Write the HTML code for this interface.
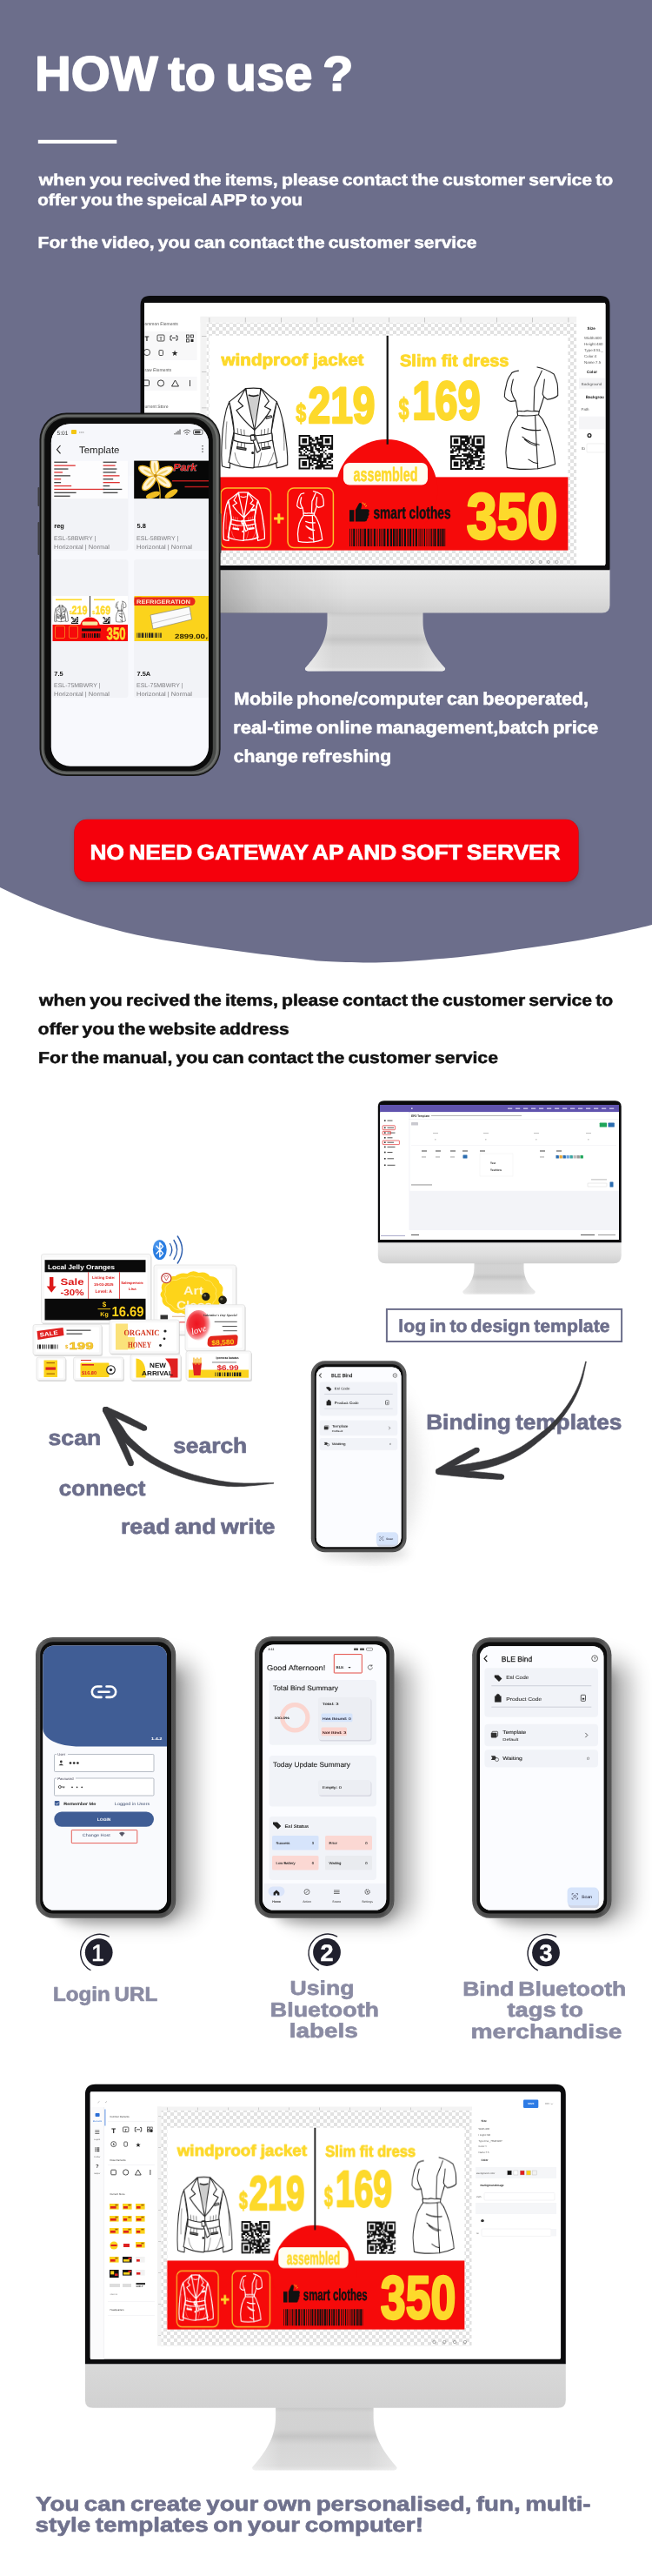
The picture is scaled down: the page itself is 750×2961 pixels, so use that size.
<!DOCTYPE html>
<html lang="en"><head><meta charset="utf-8"><title>HOW to use ?</title>
<style>
html,body{margin:0;padding:0;background:#fff;}
body{width:750px;height:2961px;overflow:hidden;font-family:"Liberation Sans",sans-serif;}
svg{display:block;font-family:"Liberation Sans",sans-serif;will-change:transform;}
text{white-space:pre;text-rendering:geometricPrecision;}
</style></head><body>
<svg width="750" height="2961" viewBox="0 0 750 2961">
<defs>
<pattern id="chk" width="8" height="8" patternUnits="userSpaceOnUse"><rect width="8" height="8" fill="#ffffff"/><rect width="4" height="4" fill="#e2e2e2"/><rect x="4" y="4" width="4" height="4" fill="#e2e2e2"/></pattern>
<linearGradient id="chin" x1="0" y1="0" x2="0" y2="1"><stop offset="0" stop-color="#e9e9e9"/><stop offset="0.6" stop-color="#dedede"/><stop offset="1" stop-color="#cfcfcf"/></linearGradient>
<linearGradient id="stand" x1="0" y1="0" x2="0" y2="1"><stop offset="0" stop-color="#c4c4c4"/><stop offset="0.1" stop-color="#d3d3d3"/><stop offset="0.36" stop-color="#d2d2d2"/><stop offset="0.47" stop-color="#c5c5c5"/><stop offset="0.6" stop-color="#d6d6d6"/><stop offset="0.93" stop-color="#dadada"/><stop offset="1" stop-color="#e6e6e6"/></linearGradient>
<linearGradient id="chin3" x1="0" y1="0" x2="0" y2="1"><stop offset="0" stop-color="#d9d9d9"/><stop offset="1" stop-color="#d1d1d1"/></linearGradient>
<linearGradient id="standh" x1="0" y1="0" x2="1" y2="0"><stop offset="0" stop-color="#fff" stop-opacity="0.45"/><stop offset="0.2" stop-color="#fff" stop-opacity="0"/><stop offset="0.8" stop-color="#fff" stop-opacity="0"/><stop offset="1" stop-color="#fff" stop-opacity="0.35"/></linearGradient>
<filter id="blur6" x="-30%" y="-30%" width="160%" height="160%"><feGaussianBlur stdDeviation="6"/></filter>
<filter id="blur10" x="-40%" y="-40%" width="180%" height="180%"><feGaussianBlur stdDeviation="10"/></filter>
<filter id="blur3" x="-30%" y="-30%" width="160%" height="160%"><feGaussianBlur stdDeviation="3"/></filter>
<filter id="blur1" x="-10%" y="-10%" width="120%" height="120%"><feGaussianBlur stdDeviation="0.6"/></filter>
<linearGradient id="pfr" x1="0" y1="0" x2="1" y2="0"><stop offset="0" stop-color="#474747"/><stop offset="0.04" stop-color="#5d5d5d"/><stop offset="0.08" stop-color="#4b4b4b"/><stop offset="0.92" stop-color="#4b4b4b"/><stop offset="0.96" stop-color="#5d5d5d"/><stop offset="1" stop-color="#474747"/></linearGradient>
<linearGradient id="phsh" x1="0" y1="0" x2="1" y2="0"><stop offset="0" stop-color="#000" stop-opacity="0.22"/><stop offset="0.35" stop-color="#000" stop-opacity="0.08"/><stop offset="1" stop-color="#000" stop-opacity="0"/></linearGradient>
<radialGradient id="loveg" cx="0.42" cy="0.45" r="0.6"><stop offset="0" stop-color="#ee1420"/><stop offset="0.5" stop-color="#f0323a"/><stop offset="0.8" stop-color="#f8a0a4"/><stop offset="1" stop-color="#fff" stop-opacity="0"/></radialGradient>
<filter id="blur14" x="-40%" y="-20%" width="180%" height="140%"><feGaussianBlur stdDeviation="13"/></filter>
</defs>
<path d="M-60,0 L-60,987 C-50.0,992.5 -19.6,1010.3 0,1020 C19.6,1029.7 38.3,1037.7 57.5,1045 C76.7,1052.3 95.9,1058.6 115,1064 C134.1,1069.4 152.8,1073.8 172,1077.6 C191.2,1081.4 210.8,1084.1 230,1087 C249.2,1089.9 267.8,1092.5 287,1095 C306.2,1097.5 330.3,1100.3 345,1102 C359.7,1103.7 360.5,1104.3 375,1105 C389.5,1105.7 412.8,1106.7 432,1106.4 C451.2,1106.2 470.8,1104.9 490,1103.5 C509.2,1102.1 527.8,1100.2 547,1098 C566.2,1095.8 585.8,1092.7 605,1090 C624.2,1087.3 642.8,1084.9 662,1081.6 C681.2,1078.3 705.3,1073.1 720,1070 C734.7,1066.9 745.0,1064.2 750,1063 L750,0 Z" fill="#6c6e8b"/>
<text x="39.94" y="103.8" font-size="56.3" fill="#fff" font-weight="700" textLength="366.45" lengthAdjust="spacingAndGlyphs" stroke="#fff" stroke-width="1.58" stroke-linejoin="round" word-spacing="-4.50">HOW to use ?</text>
<rect x="43.8" y="160.8" width="90.5" height="4.2" fill="#fff"/>
<text x="44.8" y="212.5" font-size="18.7" fill="#fff" font-weight="700" textLength="660.4" lengthAdjust="spacingAndGlyphs" stroke="#fff" stroke-width="0.52" stroke-linejoin="round" word-spacing="-1.50">when you recived the items, please contact the customer service to</text>
<text x="43.26" y="236" font-size="18.7" fill="#fff" font-weight="700" textLength="304.81" lengthAdjust="spacingAndGlyphs" stroke="#fff" stroke-width="0.52" stroke-linejoin="round" word-spacing="-1.50">offer you the speical APP to you</text>
<text x="43.63" y="284.8" font-size="18.7" fill="#fff" font-weight="700" textLength="504.81" lengthAdjust="spacingAndGlyphs" stroke="#fff" stroke-width="0.52" stroke-linejoin="round" word-spacing="-1.50">For the video, you can contact the customer service</text>
<path d="M376.5,702.6 L486.5,702.6 L486.5,714.6 C486.5,738.0 500.5,755.4 512.0,768.0 Q512.6,771.5 508.0,771.5 L355.0,771.5 Q350.4,771.5 351.0,768.0 C362.5,755.4 376.5,738.0 376.5,714.6 Z" fill="url(#stand)"/>
<path d="M376.5,702.6 L486.5,702.6 L486.5,714.6 C486.5,738.0 500.5,755.4 512.0,768.0 Q512.6,771.5 508.0,771.5 L355.0,771.5 Q350.4,771.5 351.0,768.0 C362.5,755.4 376.5,738.0 376.5,714.6 Z" fill="url(#standh)"/>
<path d="M161.5,654.3 L701.5,654.3 L701.5,695.6 Q701.5,704.6 692.5,704.6 L170.5,704.6 Q161.5,704.6 161.5,695.6 Z" fill="url(#chin)"/>
<path d="M161.5,655.3 L161.5,351 Q161.5,340 172.5,340 L690.5,340 Q701.5,340 701.5,351 L701.5,655.3 Z" fill="#0b0b0d"/>
<rect x="166.3" y="348.4" width="530.4" height="300.9" fill="#fff" rx="1.5"/>
<clipPath id="m1c"><rect x="166.2" y="348.4" width="529.6" height="301"/></clipPath>
<g clip-path="url(#m1c)">
<rect x="166" y="348" width="532" height="302" fill="#fff"/>
<rect x="237.5" y="370.7" width="425.8" height="278.6" fill="url(#chk)"/>
<rect x="230.5" y="363.8" width="433" height="6.9" fill="#f3f3f3"/>
<rect x="230.5" y="363.8" width="7" height="286" fill="#f3f3f3"/>
<rect x="240.6" y="365" width="0.6" height="5.5" fill="#aaa"/>
<rect x="281.9" y="365" width="0.6" height="5.5" fill="#aaa"/>
<rect x="323.2" y="365" width="0.6" height="5.5" fill="#aaa"/>
<rect x="364.5" y="365" width="0.6" height="5.5" fill="#aaa"/>
<rect x="405.79999999999995" y="365" width="0.6" height="5.5" fill="#aaa"/>
<rect x="447.1" y="365" width="0.6" height="5.5" fill="#aaa"/>
<rect x="488.4" y="365" width="0.6" height="5.5" fill="#aaa"/>
<rect x="529.6999999999999" y="365" width="0.6" height="5.5" fill="#aaa"/>
<rect x="571.0" y="365" width="0.6" height="5.5" fill="#aaa"/>
<rect x="612.3" y="365" width="0.6" height="5.5" fill="#aaa"/>
<rect x="653.6" y="365" width="0.6" height="5.5" fill="#aaa"/>
<rect x="232" y="386.0" width="5.5" height="0.6" fill="#aaa"/>
<rect x="232" y="427.3" width="5.5" height="0.6" fill="#aaa"/>
<rect x="232" y="468.6" width="5.5" height="0.6" fill="#aaa"/>
<rect x="232" y="509.9" width="5.5" height="0.6" fill="#aaa"/>
<rect x="232" y="551.2" width="5.5" height="0.6" fill="#aaa"/>
<rect x="232" y="592.5" width="5.5" height="0.6" fill="#aaa"/>
<rect x="232" y="633.8" width="5.5" height="0.6" fill="#aaa"/>
<rect x="232" y="675.0999999999999" width="5.5" height="0.6" fill="#aaa"/>
<rect x="240.6" y="385.8" width="412.79999999999995" height="246.8" fill="#fff"/>
<rect x="240.6" y="548.4" width="412.79999999999995" height="84.20000000000005" fill="#f60a0a"/>
<circle cx="444.8" cy="563.5" r="58.5" fill="#f60a0a"/>
<rect x="444.6" y="385.8" width="2.2" height="125" fill="#111"/>
<text x="254.5" y="420.3" font-size="19" fill="#fdd92b" font-weight="700" textLength="164" lengthAdjust="spacingAndGlyphs" stroke="#fdd92b" stroke-width="0.9" stroke-linejoin="round">windproof jacket</text>
<text x="460" y="420.7" font-size="19" fill="#fdd92b" font-weight="700" textLength="125.5" lengthAdjust="spacingAndGlyphs" stroke="#fdd92b" stroke-width="0.9" stroke-linejoin="round">Slim fit dress</text>
<text x="354.5" y="486.3" font-size="58.5" fill="#fdd92b" font-weight="700" textLength="77" lengthAdjust="spacingAndGlyphs" stroke="#fdd92b" stroke-width="2.6" stroke-linejoin="round">219</text>
<text x="340.3" y="485" font-size="30" fill="#fdd92b" font-weight="700" textLength="12" lengthAdjust="spacingAndGlyphs" stroke="#fdd92b" stroke-width="1.2" stroke-linejoin="round">$</text>
<text x="474.2" y="482.4" font-size="62.5" fill="#fdd92b" font-weight="700" textLength="78.5" lengthAdjust="spacingAndGlyphs" stroke="#fdd92b" stroke-width="2.6" stroke-linejoin="round">169</text>
<text x="458.5" y="481.8" font-size="35" fill="#fdd92b" font-weight="700" textLength="12" lengthAdjust="spacingAndGlyphs" stroke="#fdd92b" stroke-width="1.2" stroke-linejoin="round">$</text>
<g transform="translate(254.8,446) scale(0.7660,0.7767)" fill="#fff" stroke="#222" stroke-width="1.50" stroke-linejoin="round" stroke-linecap="round">
<path d="M11.7,20.4 C8,28 5.5,38 4.5,44.4 C2.5,55 1.2,66 0.9,74.7 C0.3,84 0,92 0,99.6 C0.2,106 0.5,111 0.9,115.6 C5,117.5 9,118.2 12.6,118.2 C12.8,110 13,100 13.5,92.4 C15,82 17,72 18.9,64 Z"/>
<path d="M82.9,20.4 C86.5,28 89.5,38 91,44.4 C93.5,55 95.5,66 96.4,74.7 C97.8,84 98.7,93 99.1,101.3 L99.1,113.8 C94,116 88,117.6 82.9,118.2 C82,110 80,100 78.4,92.4 C77.5,82 76,72 74.8,64 Z"/>
<path d="M36,0.9 L11.7,20.4 C15,34 18,50 18.9,64 C17.5,80 14,96 10.8,110 C22,115 36,118 47.7,118.2 L49.5,117.3 C62,117 74,114.5 83.8,110.2 C80,96 76.5,80 74.8,64 C76,50 79,34 82.9,20.4 L59.5,0.9 C52,0 44,0 36,0.9 Z"/>
<path d="M38.5,9 C44,11.5 52,11.5 57.5,9 L54,34 L47.7,52 L42,34 Z" fill="#cfcfcf" stroke="none"/>
<path d="M41.4,10.7 C45,12.2 51,12.2 55,10.7" fill="none" stroke-width="2.2"/>
<path d="M36.9,2 L37.6,9 M58.6,2 L57.9,9" fill="none"/>
<path d="M36,0.9 L25.2,19.6 L32.4,26.7 L22.5,32.9 C30,44 40,54 49.5,62.2 C46,46 41,26 37.4,8 Z"/>
<path d="M59.5,0.9 L71.2,19.6 L64.9,27.6 L73.9,32 C67,44 58,54 49.5,62.2 C52,46 55.5,26 58.2,8 Z"/>
<path d="M49.5,62.2 C50,80 50,100 48.6,117.8" fill="none"/>
<path d="M66.7,42.7 L74.8,40.9 L75.3,43.4 L67.2,45.3 Z"/>
<path d="M18.9,66.7 C30,70.5 40,71.5 47,71 C56,70.5 66,69.5 75.7,66.7 L76.3,77.2 C66,80.5 56,81.5 47,81.8 C38,82 28,81 18.3,77.4 Z"/>
<path d="M44.5,69.5 L50,69 L58.5,92 L53.5,95.5 Z"/>
<path d="M43.5,70.2 L49,69.6 L50.5,77 L44.6,77.8 Z"/>
<path d="M24,60 L24.8,67.5 M29,61 L29.6,68.8 M34,62 L34.4,69.8 M70,60 L69.4,67.5 M65,61 L64.6,69 M60,62 L59.8,70 M25,79.5 L23.5,88 M30,80.8 L29.2,88 M35,81.5 L34.6,88 M69.5,79.2 L71,87 M64.5,80.4 L65.2,87 M59.5,81.2 L60,87" fill="none" stroke-width="0.8"/>
<path d="M23.4,87.1 L36.9,89.3 L36.6,91.8 L23.2,89.6 Z" fill="#888"/>
<path d="M60.4,88.6 L73,86.6 L73.3,89 L60.7,91 Z" fill="#888"/>
<circle cx="46.8" cy="96" r="1.2" fill="#333"/>
<path d="M8,50 C7,62 6,76 6.5,90 M92,50 C93.5,62 94.5,76 94,92 M20,96 C21,104 24,110 28,114 M78,96 C76,104 73,109 70,113 M60,96 C59,104 57,110 55,116" fill="none" stroke-width="0.7"/>
</g>
<g transform="translate(580.3,421.5) scale(0.8771,0.9085)" fill="#fff" stroke="#222" stroke-width="1.25" stroke-linejoin="round" stroke-linecap="round">
<path stroke="none" d="M18.4,5.1 C12,6 9,8 8.8,9.3 C5,14 3,20 2.6,22.8 C1,28 0,34 0,38 C3,42 6,44 8.8,43.9 L14.9,43 L17.5,56.6 L17.5,61.7 C12,68 8,76 6.1,82 C3.5,92 2,102 1.8,109 L3.5,127.5 C18,131 32,130 43.8,129 C52,128 60,126 66.5,123.3 C65,110 62,98 59.5,88.7 C57,80 53,72 50,66.7 L44.7,60.8 L45.5,56.6 L51.7,38 L56,41.4 C62,41 67,39 70,36.3 C70,30 70,25 69.2,21.1 C68,16 66,12 64.8,9.3 C58,5 50,2 42.9,0.5 L39.4,26.2 Z"/>
<path fill="none" d="M18.4,5.1 C12,6 9,8 8.8,9.3 C5,14 3,20 2.6,22.8 C1,28 0,34 0,38 C3,42 6,44 8.8,43.9 L14.9,43 M11.4,16 C10,21 9,25 8.8,29.6 C10,35 12,40 14.9,43 C15.5,48 16.5,52 17.5,56.6"/>
<path fill="none" d="M42.9,0.5 C50,2 58,5 64.8,9.3 C66,12 68,16 69.2,21.1 C70,25 70,30 70,36.3 C67,39 62,41 56,41.4 L51.7,38 M52.5,16 C52,22 51,28 50,34.6 L51.7,38 C50,44 47.5,51 45.5,56.6"/>
<path fill="none" d="M49,5.1 C46,12 42,20 39.4,26.2 C39,36 38.6,46 38.5,55"/>
<path fill="none" d="M16.6,56.6 C20,55 24,57.5 28,56 C32,55 36,57.5 40,56 L45.5,56.6 L44.7,60.8 C36,62.5 26,62.5 17.5,61.7 Z"/>
<path fill="none" d="M17.5,61.7 C12,68 8,76 6.1,82 C3.5,92 2,102 1.8,109 L3.5,127.5 C18,131 32,130 43.8,129 C52,128 60,126 66.5,123.3 C65,110 62,98 59.5,88.7 C57,80 53,72 50,66.7 L44.7,60.8"/>
<path fill="none" d="M40.3,61.7 C41,84 42.5,106 43.8,129 M22.8,76.9 C30,80 40,81 47.3,80.2 M23.6,88.7 C30,94 38,97.5 45.5,98.8 M26.3,92 C31,96 37,99 42,100 M31.5,117.4 C35,120 40,122 43.8,122.5"/>
</g>
<path d="M368.05,500.00h1.88v1.88h-1.88z M356.77,501.88h1.88v1.88h-1.88z M362.41,501.88h1.88v1.88h-1.88z M364.29,501.88h1.88v1.88h-1.88z M368.05,501.88h1.88v1.88h-1.88z M356.77,503.76h3.76v1.88h-3.76z M362.41,503.76h1.88v1.88h-1.88z M364.29,503.76h1.88v1.88h-1.88z M366.17,503.76h3.76v1.88h-3.76z M358.65,505.64h3.76v1.88h-3.76z M364.29,505.64h1.88v1.88h-1.88z M356.77,507.52h1.88v1.88h-1.88z M364.29,507.52h5.64v1.88h-5.64z M356.77,509.40h5.64v1.88h-5.64z M362.41,509.40h1.88v1.88h-1.88z M364.29,509.40h3.76v1.88h-3.76z M368.05,509.40h1.88v1.88h-1.88z M356.77,511.29h1.88v1.88h-1.88z M360.53,511.29h1.88v1.88h-1.88z M362.41,511.29h1.88v1.88h-1.88z M366.17,511.29h1.88v1.88h-1.88z M368.05,511.29h1.88v1.88h-1.88z M345.48,513.17h5.64v1.88h-5.64z M351.12,513.17h1.88v1.88h-1.88z M356.77,513.17h3.76v1.88h-3.76z M362.41,513.17h1.88v1.88h-1.88z M368.05,513.17h1.88v1.88h-1.88z M369.93,513.17h3.76v1.88h-3.76z M375.58,513.17h1.88v1.88h-1.88z M379.34,513.17h3.76v1.88h-3.76z M343.60,515.05h5.64v1.88h-5.64z M351.12,515.05h3.76v1.88h-3.76z M356.77,515.05h3.76v1.88h-3.76z M362.41,515.05h1.88v1.88h-1.88z M364.29,515.05h1.88v1.88h-1.88z M366.17,515.05h1.88v1.88h-1.88z M369.93,515.05h1.88v1.88h-1.88z M377.46,515.05h1.88v1.88h-1.88z M379.34,515.05h1.88v1.88h-1.88z M381.22,515.05h1.88v1.88h-1.88z M343.60,516.93h1.88v1.88h-1.88z M349.24,516.93h1.88v1.88h-1.88z M353.00,516.93h3.76v1.88h-3.76z M356.77,516.93h3.76v1.88h-3.76z M364.29,516.93h7.52v1.88h-7.52z M373.70,516.93h1.88v1.88h-1.88z M343.60,518.81h1.88v1.88h-1.88z M345.48,518.81h1.88v1.88h-1.88z M351.12,518.81h1.88v1.88h-1.88z M356.77,518.81h1.88v1.88h-1.88z M358.65,518.81h1.88v1.88h-1.88z M360.53,518.81h1.88v1.88h-1.88z M366.17,518.81h1.88v1.88h-1.88z M371.81,518.81h1.88v1.88h-1.88z M345.48,520.69h1.88v1.88h-1.88z M349.24,520.69h1.88v1.88h-1.88z M354.89,520.69h1.88v1.88h-1.88z M360.53,520.69h1.88v1.88h-1.88z M368.05,520.69h3.76v1.88h-3.76z M373.70,520.69h1.88v1.88h-1.88z M377.46,520.69h1.88v1.88h-1.88z M379.34,520.69h3.76v1.88h-3.76z M343.60,522.57h9.40v1.88h-9.40z M353.00,522.57h1.88v1.88h-1.88z M356.77,522.57h1.88v1.88h-1.88z M358.65,522.57h1.88v1.88h-1.88z M360.53,522.57h1.88v1.88h-1.88z M362.41,522.57h1.88v1.88h-1.88z M364.29,522.57h3.76v1.88h-3.76z M368.05,522.57h1.88v1.88h-1.88z M369.93,522.57h1.88v1.88h-1.88z M375.58,522.57h1.88v1.88h-1.88z M379.34,522.57h3.76v1.88h-3.76z M353.00,524.45h1.88v1.88h-1.88z M354.89,524.45h3.76v1.88h-3.76z M360.53,524.45h1.88v1.88h-1.88z M364.29,524.45h1.88v1.88h-1.88z M366.17,524.45h3.76v1.88h-3.76z M369.93,524.45h1.88v1.88h-1.88z M375.58,524.45h1.88v1.88h-1.88z M377.46,524.45h1.88v1.88h-1.88z M379.34,524.45h1.88v1.88h-1.88z M381.22,524.45h1.88v1.88h-1.88z M356.77,526.33h1.88v1.88h-1.88z M358.65,526.33h1.88v1.88h-1.88z M360.53,526.33h3.76v1.88h-3.76z M366.17,526.33h1.88v1.88h-1.88z M368.05,526.33h1.88v1.88h-1.88z M371.81,526.33h5.64v1.88h-5.64z M377.46,526.33h1.88v1.88h-1.88z M379.34,526.33h1.88v1.88h-1.88z M358.65,528.21h1.88v1.88h-1.88z M360.53,528.21h1.88v1.88h-1.88z M362.41,528.21h3.76v1.88h-3.76z M366.17,528.21h3.76v1.88h-3.76z M371.81,528.21h3.76v1.88h-3.76z M381.22,528.21h1.88v1.88h-1.88z M358.65,530.10h1.88v1.88h-1.88z M364.29,530.10h1.88v1.88h-1.88z M366.17,530.10h3.76v1.88h-3.76z M369.93,530.10h3.76v1.88h-3.76z M373.70,530.10h1.88v1.88h-1.88z M377.46,530.10h3.76v1.88h-3.76z M356.77,531.98h1.88v1.88h-1.88z M360.53,531.98h5.64v1.88h-5.64z M368.05,531.98h3.76v1.88h-3.76z M375.58,531.98h1.88v1.88h-1.88z M356.77,533.86h1.88v1.88h-1.88z M358.65,533.86h1.88v1.88h-1.88z M364.29,533.86h3.76v1.88h-3.76z M368.05,533.86h1.88v1.88h-1.88z M369.93,533.86h3.76v1.88h-3.76z M373.70,533.86h9.40v1.88h-9.40z M362.41,535.74h1.88v1.88h-1.88z M364.29,535.74h1.88v1.88h-1.88z M366.17,535.74h1.88v1.88h-1.88z M368.05,535.74h3.76v1.88h-3.76z M371.81,535.74h1.88v1.88h-1.88z M381.22,535.74h1.88v1.88h-1.88z M358.65,537.62h1.88v1.88h-1.88z M362.41,537.62h5.64v1.88h-5.64z M368.05,537.62h1.88v1.88h-1.88z M371.81,537.62h1.88v1.88h-1.88z M373.70,537.62h3.76v1.88h-3.76z M377.46,537.62h1.88v1.88h-1.88z M379.34,537.62h3.76v1.88h-3.76z M343.60,500.00h13.17v13.17h-13.17z M345.48,501.88v9.40h9.40v-9.40z M347.36,503.76h5.64v5.64h-5.64z M369.93,500.00h13.17v13.17h-13.17z M371.81,501.88v9.40h9.40v-9.40z M373.70,503.76h5.64v5.64h-5.64z M343.60,526.33h13.17v13.17h-13.17z M345.48,528.21v9.40h9.40v-9.40z M347.36,530.10h5.64v5.64h-5.64z" fill="#111" fill-rule="evenodd"/>
<path d="M531.17,500.50h5.64v1.88h-5.64z M536.81,500.50h1.88v1.88h-1.88z M540.57,500.50h1.88v1.88h-1.88z M531.17,502.38h3.76v1.88h-3.76z M534.93,502.38h1.88v1.88h-1.88z M536.81,502.38h5.64v1.88h-5.64z M534.93,504.26h1.88v1.88h-1.88z M536.81,504.26h3.76v1.88h-3.76z M542.45,504.26h1.88v1.88h-1.88z M531.17,506.14h7.52v1.88h-7.52z M538.69,506.14h1.88v1.88h-1.88z M542.45,506.14h1.88v1.88h-1.88z M531.17,508.02h1.88v1.88h-1.88z M533.05,508.02h1.88v1.88h-1.88z M536.81,508.02h1.88v1.88h-1.88z M538.69,508.02h1.88v1.88h-1.88z M542.45,508.02h1.88v1.88h-1.88z M531.17,509.90h3.76v1.88h-3.76z M534.93,509.90h3.76v1.88h-3.76z M540.57,509.90h3.76v1.88h-3.76z M533.05,511.79h1.88v1.88h-1.88z M534.93,511.79h1.88v1.88h-1.88z M538.69,511.79h1.88v1.88h-1.88z M542.45,511.79h1.88v1.88h-1.88z M518.00,513.67h1.88v1.88h-1.88z M521.76,513.67h1.88v1.88h-1.88z M525.52,513.67h1.88v1.88h-1.88z M527.40,513.67h3.76v1.88h-3.76z M534.93,513.67h3.76v1.88h-3.76z M540.57,513.67h1.88v1.88h-1.88z M546.21,513.67h1.88v1.88h-1.88z M548.10,513.67h1.88v1.88h-1.88z M549.98,513.67h1.88v1.88h-1.88z M551.86,513.67h3.76v1.88h-3.76z M555.62,513.67h1.88v1.88h-1.88z M519.88,515.55h1.88v1.88h-1.88z M523.64,515.55h1.88v1.88h-1.88z M525.52,515.55h1.88v1.88h-1.88z M527.40,515.55h3.76v1.88h-3.76z M531.17,515.55h3.76v1.88h-3.76z M534.93,515.55h1.88v1.88h-1.88z M536.81,515.55h1.88v1.88h-1.88z M538.69,515.55h3.76v1.88h-3.76z M542.45,515.55h1.88v1.88h-1.88z M548.10,515.55h7.52v1.88h-7.52z M518.00,517.43h3.76v1.88h-3.76z M521.76,517.43h3.76v1.88h-3.76z M527.40,517.43h1.88v1.88h-1.88z M533.05,517.43h1.88v1.88h-1.88z M534.93,517.43h1.88v1.88h-1.88z M540.57,517.43h5.64v1.88h-5.64z M546.21,517.43h1.88v1.88h-1.88z M548.10,517.43h1.88v1.88h-1.88z M549.98,517.43h5.64v1.88h-5.64z M518.00,519.31h3.76v1.88h-3.76z M527.40,519.31h1.88v1.88h-1.88z M538.69,519.31h1.88v1.88h-1.88z M542.45,519.31h1.88v1.88h-1.88z M546.21,519.31h1.88v1.88h-1.88z M548.10,519.31h1.88v1.88h-1.88z M551.86,519.31h1.88v1.88h-1.88z M553.74,519.31h1.88v1.88h-1.88z M555.62,519.31h1.88v1.88h-1.88z M525.52,521.19h1.88v1.88h-1.88z M531.17,521.19h5.64v1.88h-5.64z M536.81,521.19h5.64v1.88h-5.64z M544.33,521.19h1.88v1.88h-1.88z M546.21,521.19h1.88v1.88h-1.88z M548.10,521.19h1.88v1.88h-1.88z M518.00,523.07h5.64v1.88h-5.64z M523.64,523.07h7.52v1.88h-7.52z M533.05,523.07h1.88v1.88h-1.88z M534.93,523.07h1.88v1.88h-1.88z M536.81,523.07h1.88v1.88h-1.88z M538.69,523.07h3.76v1.88h-3.76z M542.45,523.07h1.88v1.88h-1.88z M546.21,523.07h3.76v1.88h-3.76z M549.98,523.07h3.76v1.88h-3.76z M555.62,523.07h1.88v1.88h-1.88z M518.00,524.95h5.64v1.88h-5.64z M536.81,524.95h5.64v1.88h-5.64z M542.45,524.95h3.76v1.88h-3.76z M546.21,524.95h5.64v1.88h-5.64z M555.62,524.95h1.88v1.88h-1.88z M531.17,526.83h1.88v1.88h-1.88z M533.05,526.83h3.76v1.88h-3.76z M536.81,526.83h1.88v1.88h-1.88z M540.57,526.83h1.88v1.88h-1.88z M542.45,526.83h1.88v1.88h-1.88z M551.86,526.83h1.88v1.88h-1.88z M553.74,526.83h3.76v1.88h-3.76z M533.05,528.71h1.88v1.88h-1.88z M534.93,528.71h1.88v1.88h-1.88z M538.69,528.71h1.88v1.88h-1.88z M540.57,528.71h1.88v1.88h-1.88z M542.45,528.71h3.76v1.88h-3.76z M546.21,528.71h7.52v1.88h-7.52z M531.17,530.60h1.88v1.88h-1.88z M534.93,530.60h1.88v1.88h-1.88z M536.81,530.60h9.40v1.88h-9.40z M549.98,530.60h1.88v1.88h-1.88z M551.86,530.60h1.88v1.88h-1.88z M534.93,532.48h3.76v1.88h-3.76z M540.57,532.48h3.76v1.88h-3.76z M544.33,532.48h1.88v1.88h-1.88z M549.98,532.48h3.76v1.88h-3.76z M555.62,532.48h1.88v1.88h-1.88z M531.17,534.36h3.76v1.88h-3.76z M536.81,534.36h3.76v1.88h-3.76z M540.57,534.36h1.88v1.88h-1.88z M548.10,534.36h3.76v1.88h-3.76z M551.86,534.36h1.88v1.88h-1.88z M536.81,536.24h3.76v1.88h-3.76z M544.33,536.24h1.88v1.88h-1.88z M553.74,536.24h3.76v1.88h-3.76z M534.93,538.12h1.88v1.88h-1.88z M536.81,538.12h7.52v1.88h-7.52z M546.21,538.12h1.88v1.88h-1.88z M548.10,538.12h5.64v1.88h-5.64z M553.74,538.12h1.88v1.88h-1.88z M518.00,500.50h13.17v13.17h-13.17z M519.88,502.38v9.40h9.40v-9.40z M521.76,504.26h5.64v5.64h-5.64z M544.33,500.50h13.17v13.17h-13.17z M546.21,502.38v9.40h9.40v-9.40z M548.10,504.26h5.64v5.64h-5.64z M518.00,526.83h13.17v13.17h-13.17z M519.88,528.71v9.40h9.40v-9.40z M521.76,530.60h5.64v5.64h-5.64z" fill="#111" fill-rule="evenodd"/>
<rect x="395" y="532" width="97" height="25.5" fill="#fffdf2" rx="7"/>
<text x="443.5" y="552.5" font-size="22.5" fill="#fdd92b" font-weight="700" text-anchor="middle" textLength="74" lengthAdjust="spacingAndGlyphs" stroke="#fdd92b" stroke-width="0.5" stroke-linejoin="round">assembled</text>
<rect x="254" y="561" width="57.5" height="68.6" fill="none" rx="7" stroke="#fbc12a" stroke-width="1.5"/>
<rect x="331" y="561" width="52.4" height="68.6" fill="none" rx="7" stroke="#fbc12a" stroke-width="1.5"/>
<g transform="translate(257,565.8) scale(0.4780,0.4700)" fill="none" stroke="#fff" stroke-width="2.62" stroke-linejoin="round" stroke-linecap="round">
<path d="M11.7,20.4 C8,28 5.5,38 4.5,44.4 C2.5,55 1.2,66 0.9,74.7 C0.3,84 0,92 0,99.6 C0.2,106 0.5,111 0.9,115.6 C5,117.5 9,118.2 12.6,118.2 C12.8,110 13,100 13.5,92.4 C15,82 17,72 18.9,64 Z"/>
<path d="M82.9,20.4 C86.5,28 89.5,38 91,44.4 C93.5,55 95.5,66 96.4,74.7 C97.8,84 98.7,93 99.1,101.3 L99.1,113.8 C94,116 88,117.6 82.9,118.2 C82,110 80,100 78.4,92.4 C77.5,82 76,72 74.8,64 Z"/>
<path d="M36,0.9 L11.7,20.4 C15,34 18,50 18.9,64 C17.5,80 14,96 10.8,110 C22,115 36,118 47.7,118.2 L49.5,117.3 C62,117 74,114.5 83.8,110.2 C80,96 76.5,80 74.8,64 C76,50 79,34 82.9,20.4 L59.5,0.9 C52,0 44,0 36,0.9 Z"/>
<path d="M41.4,10.7 C45,12.2 51,12.2 55,10.7" fill="none" stroke-width="2.2"/>
<path d="M36.9,2 L37.6,9 M58.6,2 L57.9,9" fill="none"/>
<path d="M36,0.9 L25.2,19.6 L32.4,26.7 L22.5,32.9 C30,44 40,54 49.5,62.2 C46,46 41,26 37.4,8 Z"/>
<path d="M59.5,0.9 L71.2,19.6 L64.9,27.6 L73.9,32 C67,44 58,54 49.5,62.2 C52,46 55.5,26 58.2,8 Z"/>
<path d="M49.5,62.2 C50,80 50,100 48.6,117.8" fill="none"/>
<path d="M66.7,42.7 L74.8,40.9 L75.3,43.4 L67.2,45.3 Z"/>
<path d="M18.9,66.7 C30,70.5 40,71.5 47,71 C56,70.5 66,69.5 75.7,66.7 L76.3,77.2 C66,80.5 56,81.5 47,81.8 C38,82 28,81 18.3,77.4 Z"/>
<path d="M44.5,69.5 L50,69 L58.5,92 L53.5,95.5 Z"/>
<path d="M43.5,70.2 L49,69.6 L50.5,77 L44.6,77.8 Z"/>
<path d="M24,60 L24.8,67.5 M29,61 L29.6,68.8 M34,62 L34.4,69.8 M70,60 L69.4,67.5 M65,61 L64.6,69 M60,62 L59.8,70 M25,79.5 L23.5,88 M30,80.8 L29.2,88 M35,81.5 L34.6,88 M69.5,79.2 L71,87 M64.5,80.4 L65.2,87 M59.5,81.2 L60,87" fill="none" stroke-width="0.8"/>
<path d="M23.4,87.1 L36.9,89.3 L36.6,91.8 L23.2,89.6 Z" fill="#888"/>
<path d="M60.4,88.6 L73,86.6 L73.3,89 L60.7,91 Z" fill="#888"/>
<circle cx="46.8" cy="96" r="1.2" fill="#333"/>
<path d="M8,50 C7,62 6,76 6.5,90 M92,50 C93.5,62 94.5,76 94,92 M20,96 C21,104 24,110 28,114 M78,96 C76,104 73,109 70,113 M60,96 C59,104 57,110 55,116" fill="none" stroke-width="0.7"/>
</g>
<g transform="translate(341.7,564.5) scale(0.4371,0.4531)" fill="none" stroke="#fff" stroke-width="2.86" stroke-linejoin="round" stroke-linecap="round">
<path stroke="none" d="M18.4,5.1 C12,6 9,8 8.8,9.3 C5,14 3,20 2.6,22.8 C1,28 0,34 0,38 C3,42 6,44 8.8,43.9 L14.9,43 L17.5,56.6 L17.5,61.7 C12,68 8,76 6.1,82 C3.5,92 2,102 1.8,109 L3.5,127.5 C18,131 32,130 43.8,129 C52,128 60,126 66.5,123.3 C65,110 62,98 59.5,88.7 C57,80 53,72 50,66.7 L44.7,60.8 L45.5,56.6 L51.7,38 L56,41.4 C62,41 67,39 70,36.3 C70,30 70,25 69.2,21.1 C68,16 66,12 64.8,9.3 C58,5 50,2 42.9,0.5 L39.4,26.2 Z"/>
<path fill="none" d="M18.4,5.1 C12,6 9,8 8.8,9.3 C5,14 3,20 2.6,22.8 C1,28 0,34 0,38 C3,42 6,44 8.8,43.9 L14.9,43 M11.4,16 C10,21 9,25 8.8,29.6 C10,35 12,40 14.9,43 C15.5,48 16.5,52 17.5,56.6"/>
<path fill="none" d="M42.9,0.5 C50,2 58,5 64.8,9.3 C66,12 68,16 69.2,21.1 C70,25 70,30 70,36.3 C67,39 62,41 56,41.4 L51.7,38 M52.5,16 C52,22 51,28 50,34.6 L51.7,38 C50,44 47.5,51 45.5,56.6"/>
<path fill="none" d="M49,5.1 C46,12 42,20 39.4,26.2 C39,36 38.6,46 38.5,55"/>
<path fill="none" d="M16.6,56.6 C20,55 24,57.5 28,56 C32,55 36,57.5 40,56 L45.5,56.6 L44.7,60.8 C36,62.5 26,62.5 17.5,61.7 Z"/>
<path fill="none" d="M17.5,61.7 C12,68 8,76 6.1,82 C3.5,92 2,102 1.8,109 L3.5,127.5 C18,131 32,130 43.8,129 C52,128 60,126 66.5,123.3 C65,110 62,98 59.5,88.7 C57,80 53,72 50,66.7 L44.7,60.8"/>
<path fill="none" d="M40.3,61.7 C41,84 42.5,106 43.8,129 M22.8,76.9 C30,80 40,81 47.3,80.2 M23.6,88.7 C30,94 38,97.5 45.5,98.8 M26.3,92 C31,96 37,99 42,100 M31.5,117.4 C35,120 40,122 43.8,122.5"/>
</g>
<rect x="315.1" y="594.5" width="11.4" height="3" fill="#fdd92b"/>
<rect x="319.3" y="590.3" width="3" height="11.4" fill="#fdd92b"/>
<g transform="translate(402,577) scale(0.9792,1.0227)" fill="#111">
<rect x="0" y="9" width="5.5" height="13"/>
<path d="M7,9 L11,2 C12,0 15,1 14.5,4 L13.5,8 L21,8 C23.5,8 24,10.5 22.5,12 C23.5,13.5 23,15 21.8,15.8 C22.5,17.3 21.8,18.6 20.6,19.2 C20.8,21 19.5,22 18,22 L7,22 Z"/>
<path d="M15.5,0.5l1.2,2.2M18.5,1.5l-0.6,2.2M20.5,4l-2,1.2" stroke="#f6d21e" stroke-width="0.9" fill="none"/>
</g>
<text x="429.5" y="596.3" font-size="19.5" fill="#111" font-weight="700" textLength="89" lengthAdjust="spacingAndGlyphs" stroke="#111" stroke-width="0.5" stroke-linejoin="round">smart clothes</text>
<path d="M402.00,607.7h0.8v20.3h-0.8z M404.40,607.7h0.8v20.3h-0.8z M406.20,607.7h2.2v20.3h-2.2z M410.00,607.7h0.8v20.3h-0.8z M412.40,607.7h0.8v20.3h-0.8z M414.20,607.7h1.4v20.3h-1.4z M417.20,607.7h0.8v20.3h-0.8z M418.80,607.7h2.2v20.3h-2.2z M422.60,607.7h2.2v20.3h-2.2z M425.80,607.7h0.8v20.3h-0.8z M427.40,607.7h0.8v20.3h-0.8z M429.80,607.7h2.2v20.3h-2.2z M433.60,607.7h0.8v20.3h-0.8z M436.00,607.7h0.8v20.3h-0.8z M437.60,607.7h0.8v20.3h-0.8z M439.40,607.7h0.8v20.3h-0.8z M441.20,607.7h2.2v20.3h-2.2z M445.00,607.7h2.2v20.3h-2.2z M448.80,607.7h2.2v20.3h-2.2z M452.00,607.7h2.2v20.3h-2.2z M455.00,607.7h1.4v20.3h-1.4z M457.20,607.7h0.8v20.3h-0.8z M458.80,607.7h2.2v20.3h-2.2z M461.80,607.7h1.4v20.3h-1.4z M464.80,607.7h2.2v20.3h-2.2z M468.60,607.7h1.4v20.3h-1.4z M471.00,607.7h2.2v20.3h-2.2z M474.80,607.7h1.4v20.3h-1.4z M477.80,607.7h2.2v20.3h-2.2z M481.60,607.7h0.8v20.3h-0.8z M483.40,607.7h0.8v20.3h-0.8z M485.20,607.7h0.8v20.3h-0.8z M487.60,607.7h1.4v20.3h-1.4z M490.60,607.7h0.8v20.3h-0.8z M493.00,607.7h0.8v20.3h-0.8z M495.40,607.7h1.4v20.3h-1.4z M497.80,607.7h0.8v20.3h-0.8z M499.40,607.7h2.2v20.3h-2.2z M503.20,607.7h2.2v20.3h-2.2z M506.20,607.7h1.4v20.3h-1.4z M508.40,607.7h2.2v20.3h-2.2z M511.40,607.7h0.8v20.3h-0.8z" fill="#111"/>
<text x="536.8" y="619.3" font-size="74.5" fill="#fdd92b" font-weight="700" textLength="104.5" lengthAdjust="spacingAndGlyphs" stroke="#fdd92b" stroke-width="3" stroke-linejoin="round">350</text>
<rect x="166" y="381" width="60.7" height="33" fill="#f8f8f9"/>
<rect x="166" y="433" width="60.7" height="16" fill="#f8f8f9"/>
<text x="166.5" y="374.3" font-size="5" fill="#555" textLength="38.5" lengthAdjust="spacingAndGlyphs">ommon Elements</text>
<text x="166.5" y="427.4" font-size="5" fill="#555" textLength="30.7" lengthAdjust="spacingAndGlyphs">raw Elements</text>
<text x="166.5" y="469.2" font-size="5" fill="#555" textLength="27" lengthAdjust="spacingAndGlyphs">urrent Store</text>
<text x="169" y="391.5" font-size="8" fill="#222" font-weight="700" text-anchor="middle">T</text>
<rect x="181" y="385" width="8" height="7" fill="none" rx="1" stroke="#222" stroke-width="0.8"/>
<text x="185" y="390.6" font-size="5" fill="#222" font-weight="700" text-anchor="middle">T</text>
<path d="M198,386h-2v5h2 M202,386h2v5h-2 M198,388.5h4" fill="none" stroke="#222" stroke-width="0.9"/>
<rect x="214.5" y="385" width="3" height="3" fill="none" stroke="#222" stroke-width="0.8"/>
<rect x="219.5" y="385" width="3" height="3" fill="none" stroke="#222" stroke-width="0.8"/>
<rect x="214.5" y="390" width="3" height="3" fill="none" stroke="#222" stroke-width="0.8"/>
<rect x="219.5" y="390" width="3" height="3" fill="#222"/>
<circle cx="169" cy="405" r="3.6" fill="none" stroke="#222" stroke-width="0.8"/>
<rect x="183" y="402.5" width="4.5" height="6" fill="none" rx="1" stroke="#222" stroke-width="0.8"/>
<text x="201" y="409" font-size="9" fill="#222" text-anchor="middle">★</text>
<rect x="165" y="437" width="6.5" height="6.5" fill="none" rx="1" stroke="#222" stroke-width="0.9"/>
<circle cx="185" cy="440.5" r="3.6" fill="none" stroke="#222" stroke-width="0.9"/>
<path d="M197.5,444 l4,-7 l4,7z" fill="none" stroke="#222" stroke-width="0.9"/>
<rect x="218" y="437" width="0.9" height="7" fill="#222"/>
<rect x="663.4" y="348" width="34" height="302" fill="#fff"/>
<text x="675.6" y="379" font-size="4.6" fill="#222" font-weight="700">Size</text>
<text x="672.1" y="389.8" font-size="4.4" fill="#555">Width:800</text>
<text x="672.1" y="396.90000000000003" font-size="4.4" fill="#555">Height:480</text>
<text x="672.1" y="404.0" font-size="4.4" fill="#555">Type:ESL_</text>
<text x="672.1" y="411.1" font-size="4.4" fill="#555">Color:4</text>
<text x="672.1" y="418.2" font-size="4.4" fill="#555">Name:7.5</text>
<text x="675" y="428.5" font-size="4.6" fill="#222" font-weight="700">Color</text>
<rect x="666" y="434.5" width="30" height="12.2" fill="#f4f4f6"/>
<text x="668.8" y="442.8" font-size="4.4" fill="#555">Background</text>
<text x="673.7" y="458.2" font-size="4.6" fill="#222" font-weight="700">Backgrou</text>
<text x="668.5" y="471.9" font-size="4.4" fill="#555">Path</text>
<rect x="666" y="478.7" width="30" height="14.7" fill="#f5f5f7"/>
<circle cx="678" cy="500.5" r="1.9" fill="none" stroke="#222" stroke-width="1.3"/>
<text x="668.8" y="517" font-size="4.4" fill="#555">ID</text>
<rect x="675" y="510" width="21" height="10" fill="none" rx="1" stroke="#e6e6e6" stroke-width="0.6"/>
<circle cx="612.0" cy="646" r="1.6" fill="none" stroke="#888" stroke-width="0.6"/>
<circle cx="621.5" cy="646" r="1.6" fill="none" stroke="#888" stroke-width="0.6"/>
<circle cx="631.0" cy="646" r="1.6" fill="none" stroke="#888" stroke-width="0.6"/>
<circle cx="640.5" cy="646" r="1.6" fill="none" stroke="#888" stroke-width="0.6"/>
</g>
<rect x="250" y="655" width="150" height="50" fill="url(#phsh)"/>
<rect x="45.5" y="474.5" width="208.1" height="417.5" fill="#151515" rx="31"/>
<rect x="47.3" y="476.3" width="204.9" height="413.9" fill="#555755" rx="29.2"/>
<rect x="48.3" y="477.3" width="202.7" height="411.9" fill="#6e706e" rx="28.2"/>
<rect x="49.7" y="478.7" width="198.9" height="409.1" fill="#484a48" rx="26.8"/>
<rect x="51.3" y="480.3" width="193.5" height="405.9" fill="#0c0c0c" rx="25.2"/>
<rect x="58.8" y="487.2" width="181.2" height="393.50000000000006" fill="#f8f9fd" rx="22"/>
<rect x="43.5" y="560" width="2" height="22" fill="#3d3d3f" rx="1"/>
<rect x="43.5" y="600" width="2" height="38" fill="#3d3d3f" rx="1"/>
<rect x="252.5" y="590" width="2" height="46" fill="#3d3d3f" rx="1"/>
<clipPath id="p1c"><rect x="58.8" y="487.2" width="181.2" height="393.5" rx="22"/></clipPath>
<g clip-path="url(#p1c)">
<rect x="59" y="487" width="181" height="60" fill="#f6f7fb"/>
<text x="65.5" y="499.5" font-size="6.6" fill="#333">5:01</text>
<rect x="82" y="494" width="6" height="5" fill="#f3c614" rx="1"/>
<text x="91" y="498.5" font-size="6" fill="#555" font-weight="700">···</text>
<path d="M201,499.5v-1.5 M203,499.5v-3 M205,499.5v-4.5 M207,499.5v-6" fill="none" stroke="#444" stroke-width="1"/>
<path d="M211,496 q4,-4 8,0 M212.5,497.8 q2.5,-2.4 5,0" fill="none" stroke="#444" stroke-width="0.9"/>
<circle cx="215" cy="499.3" r="0.7" fill="#444"/>
<rect x="222.5" y="494" width="10.5" height="5.5" fill="none" rx="1.5" stroke="#444" stroke-width="0.8"/>
<rect x="224" y="495.3" width="6.5" height="2.9" fill="#444" rx="0.6"/>
<path d="M69.5,512 l-4,4.7 l4,4.7" fill="none" stroke="#222" stroke-width="1.1"/>
<text x="91" y="520.7" font-size="11.2" fill="#222" textLength="46.5" lengthAdjust="spacingAndGlyphs">Template</text>
<circle cx="233" cy="512.8" r="0.8" fill="#444"/>
<circle cx="233" cy="516" r="0.8" fill="#444"/>
<circle cx="233" cy="519.2" r="0.8" fill="#444"/>
<rect x="60" y="530" width="87.5" height="103" fill="#f2f3f7" rx="3"/>
<rect x="154" y="530" width="87" height="103" fill="#f2f3f7" rx="3"/>
<rect x="60.5" y="529.6" width="86.5" height="43.5" fill="#fdfdfe"/>
<rect x="62.3" y="530.6" width="15.047591070196372" height="1.3" fill="#444"/>
<rect x="118.6" y="530.6" width="15.396585791207439" height="1.3" fill="#444"/>
<rect x="62.3" y="534.5" width="24.484211680474587" height="1.3" fill="#d33"/>
<rect x="118.6" y="534.5" width="13.9847510514966" height="1.3" fill="#d33"/>
<rect x="62.3" y="538.4" width="16.156825461245422" height="1.3" fill="#444"/>
<rect x="118.6" y="538.4" width="15.810772432748454" height="1.3" fill="#444"/>
<rect x="62.3" y="542.3000000000001" width="9.693206877097532" height="1.3" fill="#d33"/>
<rect x="118.6" y="542.3000000000001" width="14.678629585627082" height="1.3" fill="#444"/>
<rect x="62.3" y="546.2" width="18.59765440433604" height="1.3" fill="#444"/>
<rect x="118.6" y="546.2" width="18.89465308779929" height="1.3" fill="#d33"/>
<rect x="62.3" y="550.1" width="7.88246912458437" height="1.3" fill="#d33"/>
<rect x="118.6" y="550.1" width="11.551018939367882" height="1.3" fill="#444"/>
<rect x="62.3" y="554.0" width="7.8134107498367875" height="1.3" fill="#444"/>
<rect x="118.6" y="554.0" width="19.144668015507662" height="1.3" fill="#d33"/>
<rect x="62.3" y="557.9" width="19.86876965082478" height="1.3" fill="#d33"/>
<rect x="118.6" y="557.9" width="7.62820504554769" height="1.3" fill="#444"/>
<rect x="62.3" y="561.8000000000001" width="58" height="1.3" fill="#d33"/>
<rect x="118.6" y="561.8000000000001" width="21.732901311981674" height="1.3" fill="#444"/>
<rect x="62.3" y="565.7" width="25.295155622511334" height="1.3" fill="#444"/>
<rect x="118.6" y="565.7" width="16.808838003007608" height="1.3" fill="#444"/>
<rect x="62.3" y="569.6" width="18.311254091571413" height="1.3" fill="#444"/>
<rect x="154.2" y="529.6" width="86" height="43.5" fill="#070707"/>
<clipPath id="c2c"><rect x="154.2" y="529.6" width="86" height="43.5"/></clipPath>
<g clip-path="url(#c2c)">
<ellipse cx="190" cy="547" rx="10.5" ry="4.8" fill="#fff4d6" stroke="#e9b31f" stroke-width="1.3" transform="rotate(208 178.9 547)"/>
<ellipse cx="190" cy="547" rx="10.5" ry="4.8" fill="#fff4d6" stroke="#e9b31f" stroke-width="1.3" transform="rotate(265 178.9 547)"/>
<ellipse cx="190" cy="547" rx="10.5" ry="4.8" fill="#fff4d6" stroke="#e9b31f" stroke-width="1.3" transform="rotate(335 178.9 547)"/>
<ellipse cx="190" cy="547" rx="10.5" ry="4.8" fill="#fff4d6" stroke="#e9b31f" stroke-width="1.3" transform="rotate(35 178.9 547)"/>
<ellipse cx="190" cy="547" rx="10.5" ry="4.8" fill="#fff4d6" stroke="#e9b31f" stroke-width="1.3" transform="rotate(132 178.9 547)"/>
<ellipse cx="188" cy="547" rx="6.5" ry="1.2" fill="#f1cf6a" transform="rotate(208 178.9 547)"/>
<ellipse cx="188" cy="547" rx="6.5" ry="1.2" fill="#f1cf6a" transform="rotate(265 178.9 547)"/>
<ellipse cx="188" cy="547" rx="6.5" ry="1.2" fill="#f1cf6a" transform="rotate(335 178.9 547)"/>
<ellipse cx="188" cy="547" rx="6.5" ry="1.2" fill="#f1cf6a" transform="rotate(35 178.9 547)"/>
<ellipse cx="188" cy="547" rx="6.5" ry="1.2" fill="#f1cf6a" transform="rotate(132 178.9 547)"/>
<circle cx="178.9" cy="547" r="2" fill="#c48a16"/>
<path d="M180,550 q5,9 4,23" fill="none" stroke="#e9b31f" stroke-width="1.3"/>
<ellipse cx="176" cy="569" rx="8.5" ry="3.4" fill="#f0bd22" transform="rotate(-18 176 569)"/>
<ellipse cx="197" cy="567.5" rx="8.5" ry="3.4" fill="#f0bd22" transform="rotate(-32 197 567.5)"/>
</g>
<text x="199.3" y="541" font-size="11.5" fill="#e21a1a" font-weight="700" textLength="27" lengthAdjust="spacingAndGlyphs" font-style="italic" stroke="#fff" stroke-width="0.35" paint-order="stroke">Park</text>
<rect x="198" y="552" width="42" height="1.5" fill="#b51c1c"/>
<rect x="212.5" y="558.8" width="27.5" height="1.5" fill="#b51c1c"/>
<text x="62.3" y="606.6" font-size="7.4" fill="#111" font-weight="700">reg</text>
<text x="157.5" y="606.6" font-size="7.4" fill="#111" font-weight="700">5.8</text>
<text x="62" y="621.2" font-size="6.8" fill="#7d7d80" textLength="48.5" lengthAdjust="spacingAndGlyphs">ESL-58BWRY |</text>
<text x="62" y="630.5" font-size="6.8" fill="#7d7d80" textLength="64" lengthAdjust="spacingAndGlyphs">Horizontal | Normal</text>
<text x="157" y="621.2" font-size="6.8" fill="#7d7d80" textLength="48.5" lengthAdjust="spacingAndGlyphs">ESL-58BWRY |</text>
<text x="157" y="630.5" font-size="6.8" fill="#7d7d80" textLength="64" lengthAdjust="spacingAndGlyphs">Horizontal | Normal</text>
<rect x="60" y="643" width="87.5" height="159" fill="#f2f3f7" rx="3"/>
<rect x="154" y="643" width="87" height="159" fill="#f2f3f7" rx="3"/>
<rect x="60.5" y="685" width="86.5" height="52" fill="#fff"/>
<rect x="60.5" y="718" width="86.5" height="19" fill="#f60a0a"/>
<circle cx="103.5" cy="721" r="11.5" fill="#f60a0a"/>
<rect x="103" y="685" width="0.9" height="24" fill="#111"/>
<rect x="64" y="688.5" width="30" height="1.6" fill="#fdd92b"/>
<rect x="108" y="688.5" width="24" height="1.6" fill="#fdd92b"/>
<text x="82.5" y="706.3" font-size="13.5" fill="#fdd92b" font-weight="700" textLength="18" lengthAdjust="spacingAndGlyphs" stroke="#fdd92b" stroke-width="0.5">219</text>
<text x="79.5" y="706" font-size="6" fill="#fdd92b" font-weight="700">$</text>
<text x="109.5" y="705.6" font-size="13.5" fill="#fdd92b" font-weight="700" textLength="17.5" lengthAdjust="spacingAndGlyphs" stroke="#fdd92b" stroke-width="0.5">169</text>
<text x="106" y="705.5" font-size="6" fill="#fdd92b" font-weight="700">$</text>
<g transform="translate(62.5,696) scale(0.1600,0.1583)" fill="#fff" stroke="#222" stroke-width="3.12" stroke-linejoin="round" stroke-linecap="round">
<path d="M11.7,20.4 C8,28 5.5,38 4.5,44.4 C2.5,55 1.2,66 0.9,74.7 C0.3,84 0,92 0,99.6 C0.2,106 0.5,111 0.9,115.6 C5,117.5 9,118.2 12.6,118.2 C12.8,110 13,100 13.5,92.4 C15,82 17,72 18.9,64 Z"/>
<path d="M82.9,20.4 C86.5,28 89.5,38 91,44.4 C93.5,55 95.5,66 96.4,74.7 C97.8,84 98.7,93 99.1,101.3 L99.1,113.8 C94,116 88,117.6 82.9,118.2 C82,110 80,100 78.4,92.4 C77.5,82 76,72 74.8,64 Z"/>
<path d="M36,0.9 L11.7,20.4 C15,34 18,50 18.9,64 C17.5,80 14,96 10.8,110 C22,115 36,118 47.7,118.2 L49.5,117.3 C62,117 74,114.5 83.8,110.2 C80,96 76.5,80 74.8,64 C76,50 79,34 82.9,20.4 L59.5,0.9 C52,0 44,0 36,0.9 Z"/>
<path d="M38.5,9 C44,11.5 52,11.5 57.5,9 L54,34 L47.7,52 L42,34 Z" fill="#cfcfcf" stroke="none"/>
<path d="M41.4,10.7 C45,12.2 51,12.2 55,10.7" fill="none" stroke-width="2.2"/>
<path d="M36.9,2 L37.6,9 M58.6,2 L57.9,9" fill="none"/>
<path d="M36,0.9 L25.2,19.6 L32.4,26.7 L22.5,32.9 C30,44 40,54 49.5,62.2 C46,46 41,26 37.4,8 Z"/>
<path d="M59.5,0.9 L71.2,19.6 L64.9,27.6 L73.9,32 C67,44 58,54 49.5,62.2 C52,46 55.5,26 58.2,8 Z"/>
<path d="M49.5,62.2 C50,80 50,100 48.6,117.8" fill="none"/>
<path d="M66.7,42.7 L74.8,40.9 L75.3,43.4 L67.2,45.3 Z"/>
<path d="M18.9,66.7 C30,70.5 40,71.5 47,71 C56,70.5 66,69.5 75.7,66.7 L76.3,77.2 C66,80.5 56,81.5 47,81.8 C38,82 28,81 18.3,77.4 Z"/>
<path d="M44.5,69.5 L50,69 L58.5,92 L53.5,95.5 Z"/>
<path d="M43.5,70.2 L49,69.6 L50.5,77 L44.6,77.8 Z"/>
<path d="M24,60 L24.8,67.5 M29,61 L29.6,68.8 M34,62 L34.4,69.8 M70,60 L69.4,67.5 M65,61 L64.6,69 M60,62 L59.8,70 M25,79.5 L23.5,88 M30,80.8 L29.2,88 M35,81.5 L34.6,88 M69.5,79.2 L71,87 M64.5,80.4 L65.2,87 M59.5,81.2 L60,87" fill="none" stroke-width="0.8"/>
<path d="M23.4,87.1 L36.9,89.3 L36.6,91.8 L23.2,89.6 Z" fill="#888"/>
<path d="M60.4,88.6 L73,86.6 L73.3,89 L60.7,91 Z" fill="#888"/>
<circle cx="46.8" cy="96" r="1.2" fill="#333"/>
<path d="M8,50 C7,62 6,76 6.5,90 M92,50 C93.5,62 94.5,76 94,92 M20,96 C21,104 24,110 28,114 M78,96 C76,104 73,109 70,113 M60,96 C59,104 57,110 55,116" fill="none" stroke-width="0.7"/>
</g>
<g transform="translate(133,691) scale(0.1714,0.1846)" fill="#fff" stroke="#222" stroke-width="2.92" stroke-linejoin="round" stroke-linecap="round">
<path stroke="none" d="M18.4,5.1 C12,6 9,8 8.8,9.3 C5,14 3,20 2.6,22.8 C1,28 0,34 0,38 C3,42 6,44 8.8,43.9 L14.9,43 L17.5,56.6 L17.5,61.7 C12,68 8,76 6.1,82 C3.5,92 2,102 1.8,109 L3.5,127.5 C18,131 32,130 43.8,129 C52,128 60,126 66.5,123.3 C65,110 62,98 59.5,88.7 C57,80 53,72 50,66.7 L44.7,60.8 L45.5,56.6 L51.7,38 L56,41.4 C62,41 67,39 70,36.3 C70,30 70,25 69.2,21.1 C68,16 66,12 64.8,9.3 C58,5 50,2 42.9,0.5 L39.4,26.2 Z"/>
<path fill="none" d="M18.4,5.1 C12,6 9,8 8.8,9.3 C5,14 3,20 2.6,22.8 C1,28 0,34 0,38 C3,42 6,44 8.8,43.9 L14.9,43 M11.4,16 C10,21 9,25 8.8,29.6 C10,35 12,40 14.9,43 C15.5,48 16.5,52 17.5,56.6"/>
<path fill="none" d="M42.9,0.5 C50,2 58,5 64.8,9.3 C66,12 68,16 69.2,21.1 C70,25 70,30 70,36.3 C67,39 62,41 56,41.4 L51.7,38 M52.5,16 C52,22 51,28 50,34.6 L51.7,38 C50,44 47.5,51 45.5,56.6"/>
<path fill="none" d="M49,5.1 C46,12 42,20 39.4,26.2 C39,36 38.6,46 38.5,55"/>
<path fill="none" d="M16.6,56.6 C20,55 24,57.5 28,56 C32,55 36,57.5 40,56 L45.5,56.6 L44.7,60.8 C36,62.5 26,62.5 17.5,61.7 Z"/>
<path fill="none" d="M17.5,61.7 C12,68 8,76 6.1,82 C3.5,92 2,102 1.8,109 L3.5,127.5 C18,131 32,130 43.8,129 C52,128 60,126 66.5,123.3 C65,110 62,98 59.5,88.7 C57,80 53,72 50,66.7 L44.7,60.8"/>
<path fill="none" d="M40.3,61.7 C41,84 42.5,106 43.8,129 M22.8,76.9 C30,80 40,81 47.3,80.2 M23.6,88.7 C30,94 38,97.5 45.5,98.8 M26.3,92 C31,96 37,99 42,100 M31.5,117.4 C35,120 40,122 43.8,122.5"/>
</g>
<path d="M88.22,716.11h1.78v0.89h-1.78z M82.00,709.00h6.22v6.22h-6.22z M82.89,709.89v4.44h4.44v-4.44z M83.78,710.78h2.67v2.67h-2.67z M83.78,709.00h6.22v6.22h-6.22z M84.67,709.89v4.44h4.44v-4.44z M85.56,710.78h2.67v2.67h-2.67z M82.00,710.78h6.22v6.22h-6.22z M82.89,711.67v4.44h4.44v-4.44z M83.78,712.56h2.67v2.67h-2.67z" fill="#111" fill-rule="evenodd"/>
<path d="M124.72,715.22h1.78v0.89h-1.78z M124.72,716.11h1.78v0.89h-1.78z M118.50,709.00h6.22v6.22h-6.22z M119.39,709.89v4.44h4.44v-4.44z M120.28,710.78h2.67v2.67h-2.67z M120.28,709.00h6.22v6.22h-6.22z M121.17,709.89v4.44h4.44v-4.44z M122.06,710.78h2.67v2.67h-2.67z M118.50,710.78h6.22v6.22h-6.22z M119.39,711.67v4.44h4.44v-4.44z M120.28,712.56h2.67v2.67h-2.67z" fill="#111" fill-rule="evenodd"/>
<rect x="94.5" y="714.5" width="18" height="4.2" fill="#f7e9a0" rx="1.5"/>
<rect x="63.5" y="719.5" width="11" height="14" fill="none" rx="1.5" stroke="#fdd92b" stroke-width="0.5"/>
<rect x="79.5" y="719.5" width="10" height="14" fill="none" rx="1.5" stroke="#fdd92b" stroke-width="0.5"/>
<rect x="94" y="722.5" width="22" height="3" fill="#111"/>
<path d="M94.00,728h0.8v5h-0.8z M95.80,728h2.2v5h-2.2z M98.80,728h0.8v5h-0.8z M101.20,728h0.8v5h-0.8z M102.80,728h0.8v5h-0.8z M104.40,728h0.8v5h-0.8z M106.20,728h0.8v5h-0.8z M108.00,728h2.2v5h-2.2z M111.20,728h2.2v5h-2.2z M114.40,728h0.8v5h-0.8z" fill="#111"/>
<text x="122.6" y="734.6" font-size="19.5" fill="#fdd92b" font-weight="700" textLength="22" lengthAdjust="spacingAndGlyphs" stroke="#fdd92b" stroke-width="0.6">350</text>
<rect x="154.5" y="685" width="85.5" height="52" fill="#fbd31c"/>
<rect x="154.5" y="686.5" width="70" height="9.5" fill="#e8281c" rx="4.5"/>
<rect x="154.5" y="686.5" width="8" height="9.5" fill="#e8281c"/>
<text x="157" y="694.2" font-size="6.4" fill="#fde9c8" font-weight="700" textLength="62" lengthAdjust="spacingAndGlyphs">REFRIGERATION</text>
<path d="M173,707 L218,697.5 L220.5,712 L176,723 Z" fill="#fafafa" stroke="#777" stroke-width="0.6"/>
<path d="M175,716.5 L220,705.5" fill="none" stroke="#999" stroke-width="0.5"/>
<path d="M157.50,727.5h0.8v5.5h-0.8z M159.30,727.5h1.4v5.5h-1.4z M161.50,727.5h0.8v5.5h-0.8z M163.10,727.5h2.2v5.5h-2.2z M166.90,727.5h1.4v5.5h-1.4z M169.30,727.5h0.8v5.5h-0.8z M171.10,727.5h2.2v5.5h-2.2z M174.10,727.5h2.2v5.5h-2.2z M177.90,727.5h0.8v5.5h-0.8z M179.50,727.5h1.4v5.5h-1.4z M182.50,727.5h0.8v5.5h-0.8z M184.30,727.5h1.4v5.5h-1.4z" fill="#222"/>
<text x="201" y="734" font-size="7.6" fill="#2a2200" font-weight="700" textLength="35" lengthAdjust="spacingAndGlyphs">2899.00</text>
<text x="236.8" y="734.5" font-size="3.6" fill="#2a2200" font-weight="700">¥</text>
<text x="62.3" y="776.8" font-size="7.4" fill="#111" font-weight="700">7.5</text>
<text x="157.5" y="776.8" font-size="7.4" fill="#111" font-weight="700">7.5A</text>
<text x="62" y="790" font-size="6.8" fill="#7d7d80" textLength="53.5" lengthAdjust="spacingAndGlyphs">ESL-75MBWRY |</text>
<text x="62" y="799.8" font-size="6.8" fill="#7d7d80" textLength="64" lengthAdjust="spacingAndGlyphs">Horizontal | Normal</text>
<text x="157" y="790" font-size="6.8" fill="#7d7d80" textLength="53.5" lengthAdjust="spacingAndGlyphs">ESL-75MBWRY |</text>
<text x="157" y="799.8" font-size="6.8" fill="#7d7d80" textLength="64" lengthAdjust="spacingAndGlyphs">Horizontal | Normal</text>
</g>
<text x="269.0" y="809.7" font-size="20.3" fill="#fff" font-weight="700" textLength="408.1" lengthAdjust="spacingAndGlyphs" stroke="#fff" stroke-width="0.57" stroke-linejoin="round" word-spacing="-1.62">Mobile phone/computer can beoperated,</text>
<text x="268.29" y="843.4" font-size="20.3" fill="#fff" font-weight="700" textLength="419.87" lengthAdjust="spacingAndGlyphs" stroke="#fff" stroke-width="0.57" stroke-linejoin="round" word-spacing="-1.62">real-time online management,batch price</text>
<text x="268.85" y="876.2" font-size="20.3" fill="#fff" font-weight="700" textLength="181.21" lengthAdjust="spacingAndGlyphs" stroke="#fff" stroke-width="0.57" stroke-linejoin="round" word-spacing="-1.62">change refreshing</text>
<rect x="86.5" y="945" width="579" height="72" fill="#3a2a40" rx="15" opacity="0.4" filter="url(#blur3)"/>
<rect x="85.2" y="941.8" width="580.5" height="72" fill="#d9000c" rx="15"/>
<rect x="85.9" y="942.3" width="579.1" height="70.4" fill="#f5000c" rx="14.5"/>
<text x="103.46" y="988" font-size="24.6" fill="#fff" font-weight="700" textLength="541.14" lengthAdjust="spacingAndGlyphs" stroke="#fff" stroke-width="0.69" stroke-linejoin="round" word-spacing="-1.97">NO NEED GATEWAY AP AND SOFT SERVER</text>
<text x="45.1" y="1155.8" font-size="18.7" fill="#111" font-weight="700" textLength="660.1" lengthAdjust="spacingAndGlyphs" stroke="#111" stroke-width="0.52" stroke-linejoin="round" word-spacing="-1.50">when you recived the items, please contact the customer service to</text>
<text x="43.86" y="1188.9" font-size="18.7" fill="#111" font-weight="700" textLength="288.89" lengthAdjust="spacingAndGlyphs" stroke="#111" stroke-width="0.52" stroke-linejoin="round" word-spacing="-1.50">offer you the website address</text>
<text x="44.02" y="1222" font-size="18.7" fill="#111" font-weight="700" textLength="528.91" lengthAdjust="spacingAndGlyphs" stroke="#111" stroke-width="0.52" stroke-linejoin="round" word-spacing="-1.50">For the manual, you can contact the customer service</text>
<path d="M545.5,1450.2 L602.5,1450.2 L602.5,1457.5 C602.5,1470.0 609.6,1479.3 615.5,1484.3 Q616.1,1487.8 611.5,1487.8 L536.5,1487.8 Q531.9,1487.8 532.5,1484.3 C538.4,1479.3 545.5,1470.0 545.5,1457.5 Z" fill="url(#stand)"/>
<path d="M545.5,1450.2 L602.5,1450.2 L602.5,1457.5 C602.5,1470.0 609.6,1479.3 615.5,1484.3 Q616.1,1487.8 611.5,1487.8 L536.5,1487.8 Q531.9,1487.8 532.5,1484.3 C538.4,1479.3 545.5,1470.0 545.5,1457.5 Z" fill="url(#standh)"/>
<path d="M434.8,1427.2 L714.7,1427.2 L714.7,1443.2 Q714.7,1452.2 705.7,1452.2 L443.8,1452.2 Q434.8,1452.2 434.8,1443.2 Z" fill="url(#chin)"/>
<path d="M434.8,1428.2 L434.8,1272.3 Q434.8,1265.3 441.8,1265.3 L707.7,1265.3 Q714.7,1265.3 714.7,1272.3 L714.7,1428.2 Z" fill="#0b0b0d"/>
<rect x="437.90000000000003" y="1270.2" width="273.70000000000005" height="154.3000000000001" fill="#fff" rx="1.5"/>
<clipPath id="m2c"><rect x="437.8" y="1270.2" width="273.7" height="154.3"/></clipPath>
<g clip-path="url(#m2c)">
<rect x="438" y="1270" width="274" height="155" fill="#f3f4f8"/>
<rect x="437" y="1269" width="276" height="9.3" fill="#6053ae"/>
<rect x="584" y="1273.6" width="5.2" height="1.2" fill="#d9d5f3"/>
<rect x="593" y="1273.6" width="5.2" height="1.2" fill="#d9d5f3"/>
<rect x="602" y="1273.6" width="5.2" height="1.2" fill="#d9d5f3"/>
<rect x="611" y="1273.6" width="5.2" height="1.2" fill="#d9d5f3"/>
<rect x="620" y="1273.6" width="5.2" height="1.2" fill="#d9d5f3"/>
<rect x="629" y="1273.6" width="5.2" height="1.2" fill="#d9d5f3"/>
<rect x="638" y="1273.6" width="5.2" height="1.2" fill="#d9d5f3"/>
<rect x="647" y="1273.6" width="5.2" height="1.2" fill="#d9d5f3"/>
<rect x="656" y="1273.6" width="5.2" height="1.2" fill="#d9d5f3"/>
<rect x="665" y="1273.6" width="5.2" height="1.2" fill="#d9d5f3"/>
<rect x="674" y="1273.6" width="5.2" height="1.2" fill="#d9d5f3"/>
<rect x="683" y="1273.6" width="5.2" height="1.2" fill="#d9d5f3"/>
<rect x="692" y="1273.6" width="5.2" height="1.2" fill="#d9d5f3"/>
<rect x="701" y="1273.6" width="5.2" height="1.2" fill="#d9d5f3"/>
<rect x="473" y="1273.4" width="1.6" height="1.6" fill="#d9d5f3"/>
<rect x="437" y="1278.3" width="33.4" height="147" fill="#fff"/>
<rect x="442" y="1287.3" width="1.6" height="1.6" fill="#333"/>
<rect x="445.5" y="1287.6" width="6.0" height="1" fill="#555"/>
<rect x="442" y="1295.5" width="1.6" height="1.6" fill="#333"/>
<rect x="445.5" y="1295.8" width="7.5" height="1" fill="#555"/>
<rect x="442" y="1301.3" width="1.6" height="1.6" fill="#333"/>
<rect x="445.5" y="1301.6" width="9.0" height="1" fill="#555"/>
<rect x="442" y="1307" width="1.6" height="1.6" fill="#333"/>
<rect x="445.5" y="1307.3" width="6.0" height="1" fill="#555"/>
<rect x="442" y="1312.4" width="1.6" height="1.6" fill="#333"/>
<rect x="445.5" y="1312.7" width="7.5" height="1" fill="#555"/>
<rect x="442" y="1317.6" width="1.6" height="1.6" fill="#333"/>
<rect x="445.5" y="1317.8999999999999" width="9.0" height="1" fill="#555"/>
<rect x="442" y="1323.7" width="1.6" height="1.6" fill="#333"/>
<rect x="445.5" y="1324.0" width="6.0" height="1" fill="#555"/>
<rect x="442" y="1331" width="1.6" height="1.6" fill="#333"/>
<rect x="445.5" y="1331.3" width="7.5" height="1" fill="#555"/>
<rect x="442" y="1338.5" width="1.6" height="1.6" fill="#333"/>
<rect x="445.5" y="1338.8" width="9.0" height="1" fill="#555"/>
<rect x="440.2" y="1293.8" width="14.2" height="4.9" fill="none" rx="0.5" stroke="#e03030" stroke-width="0.7"/>
<rect x="440.2" y="1300.4" width="9.3" height="3.8" fill="none" rx="0.5" stroke="#e03030" stroke-width="0.7"/>
<rect x="440.2" y="1311" width="19.2" height="4.6" fill="none" rx="0.5" stroke="#e03030" stroke-width="0.7"/>
<rect x="438" y="1420" width="28" height="0.6" fill="#77a"/>
<rect x="471.5" y="1278.3" width="241" height="90.5" fill="#fff"/>
<text x="473" y="1284" font-size="3.6" fill="#333" font-weight="700" textLength="21" lengthAdjust="spacingAndGlyphs">EPD Template</text>
<rect x="496" y="1282" width="104" height="0.9" fill="#aaa"/>
<rect x="470" y="1286.5" width="242" height="0.5" fill="#e8e8ee"/>
<rect x="473" y="1290" width="8" height="3.6" fill="#c9c9cf" rx="0.6"/>
<rect x="689.7" y="1290.6" width="8.3" height="4.9" fill="#1fa55a" rx="0.6"/>
<rect x="699.5" y="1290.6" width="7.3" height="4.9" fill="#2b6cb0" rx="0.6"/>
<rect x="498" y="1302" width="6" height="0.9" fill="#bbb"/>
<rect x="500" y="1309" width="1.5" height="1.5" fill="#ccc"/>
<rect x="556" y="1302" width="6" height="0.9" fill="#bbb"/>
<rect x="558" y="1309" width="1.5" height="1.5" fill="#ccc"/>
<rect x="614" y="1302" width="6" height="0.9" fill="#bbb"/>
<rect x="616" y="1309" width="1.5" height="1.5" fill="#ccc"/>
<rect x="674" y="1302" width="6" height="0.9" fill="#bbb"/>
<rect x="676" y="1309" width="1.5" height="1.5" fill="#ccc"/>
<rect x="473" y="1316.5" width="236" height="0.4" fill="#e8e8ee"/>
<rect x="485" y="1322.5" width="6" height="1" fill="#444"/>
<rect x="501" y="1322.5" width="6" height="1" fill="#444"/>
<rect x="518" y="1322.5" width="6" height="1" fill="#444"/>
<rect x="532" y="1322.5" width="6" height="1" fill="#444"/>
<rect x="552" y="1322.5" width="6" height="1" fill="#444"/>
<rect x="621" y="1322.5" width="6" height="1" fill="#444"/>
<rect x="640" y="1322.5" width="6" height="1" fill="#444"/>
<rect x="485" y="1329.5" width="5" height="0.9" fill="#999"/>
<rect x="501" y="1329.5" width="5" height="0.9" fill="#999"/>
<rect x="518" y="1329.5" width="5" height="0.9" fill="#999"/>
<rect x="621" y="1329.5" width="5" height="0.9" fill="#999"/>
<rect x="532.5" y="1327.5" width="5" height="4" fill="#2b6cb0" rx="0.5"/>
<rect x="639.5" y="1328" width="3.4" height="3.6" fill="#2b6cb0" rx="0.4"/>
<rect x="643.5" y="1328" width="3.4" height="3.6" fill="#e8a93a" rx="0.4"/>
<rect x="647.5" y="1328" width="3.4" height="3.6" fill="#2b6cb0" rx="0.4"/>
<rect x="651.5" y="1328" width="3.4" height="3.6" fill="#6aa4e0" rx="0.4"/>
<rect x="655.5" y="1328" width="3.4" height="3.6" fill="#3aa5a0" rx="0.4"/>
<rect x="659.5" y="1328" width="3.4" height="3.6" fill="#bbb" rx="0.4"/>
<rect x="663.5" y="1328" width="3.4" height="3.6" fill="#999" rx="0.4"/>
<rect x="667.5" y="1328" width="3.4" height="3.6" fill="#1fa55a" rx="0.4"/>
<rect x="552" y="1326" width="38" height="26" fill="#fff" stroke="#eee" stroke-width="0.5"/>
<text x="564" y="1337.5" font-size="3.2" fill="#333" font-weight="700">Test</text>
<text x="564" y="1346" font-size="3.2" fill="#333" font-weight="700">TestNew</text>
<rect x="473" y="1361.5" width="24" height="0.9" fill="#888"/>
<rect x="680" y="1355.5" width="18" height="0.8" fill="#aaa"/>
<rect x="676" y="1360" width="22" height="4" fill="none" rx="0.4" stroke="#ccc" stroke-width="0.4"/>
<rect x="701.5" y="1358.5" width="4" height="6" fill="#2b6cb0" rx="0.5"/>
<rect x="470" y="1414" width="242" height="11" fill="#fff"/>
<rect x="473" y="1419" width="9" height="1" fill="#555"/>
<rect x="668" y="1419" width="16" height="1" fill="#555"/>
<rect x="688" y="1419" width="20" height="1" fill="#999"/>
</g>
<rect x="444.9" y="1504.9" width="270.2" height="37.1" fill="#fff" stroke="#6c6e8b" stroke-width="2"/>
<text x="458.31" y="1530.6" font-size="20.4" fill="#6c6e8b" font-weight="700" textLength="243.21" lengthAdjust="spacingAndGlyphs" stroke="#6c6e8b" stroke-width="0.57" stroke-linejoin="round" word-spacing="-1.63">log in to design template</text>
<ellipse cx="183.8" cy="1436.6" rx="7.9" ry="11.4" fill="#2a7de1"/>
<ellipse cx="182" cy="1432" rx="5.4" ry="6" fill="#62a8f5" opacity="0.5"/>
<path d="M180,1432.2 L187.6,1440.6 L183.8,1444.8 L183.8,1428.4 L187.6,1432.6 L180,1441" fill="none" stroke="#fff" stroke-width="1.4" stroke-linejoin="round" stroke-linecap="round"/>
<path d="M195.5,1429.5 q4.6,7 0,14" fill="none" stroke="#2f5fae" stroke-width="1.3" stroke-linecap="round"/>
<path d="M200,1425.5 q7.4,11 0,22" fill="none" stroke="#2f5fae" stroke-width="1.4" stroke-linecap="round"/>
<path d="M204.3,1421 q10.6,15.5 0,31" fill="none" stroke="#2f5fae" stroke-width="1.5" stroke-linecap="round"/>
<rect x="178" y="1455.5" width="94.5" height="80" fill="#999" rx="2.5" opacity="0.35" filter="url(#blur1)"/>
<rect x="177" y="1454" width="94.5" height="80" fill="#f8f8f8" rx="2.5" stroke="#dcdcdc" stroke-width="0.6"/>
<rect x="181.5" y="1458.5" width="85.5" height="71.0" fill="#fff" rx="0.8"/>
<path d="M186.5,1484 q-3,-8 4,-11 q2,-7 11,-6 q6,-5 14,-3 q6,-5 13,-1 q9,-2 13,4 q9,0 11,8 q6,4 3,11 q4,7 -3,12 q-1,7 -10,8 q-7,6 -16,3 q-9,5 -18,0 q-10,2 -14,-6 q-9,-3 -8,-11 q-4,-4 0,-8z" fill="#fdd41a"/>
<path d="M190.5,1484.5 q-2,-6 3.5,-8.5 q2,-5.5 9,-4.5 q5,-4 11.5,-2.5 q5,-4 11,-1 q7.5,-1.5 11,3.5 q7,0 9,6.5 q5,3.5 2.5,9 q3,5.5 -2.5,9.5 q-1,6 -8.5,6.5 q-6,5 -13,2.5 q-7.5,4 -15,0 q-8,1.5 -11.5,-5 q-7.5,-2.5 -6.5,-9 q-3,-3.5 -0.5,-7z" fill="none" stroke="#ffe875" stroke-width="0.8"/>
<circle cx="191.3" cy="1469.2" r="5.6" fill="#fff" stroke="#b5302c" stroke-width="1.1"/>
<path d="M188.6,1467.2 l2.7,4.8 l2.7,-4.8 q-1.2,-1.6 -2.7,0 q-1.5,-1.6 -2.7,0z" fill="none" stroke="#c9302c" stroke-width="0.7"/>
<text x="222.5" y="1488" font-size="13.5" fill="#fff6cf" font-weight="700" text-anchor="middle" textLength="23" lengthAdjust="spacingAndGlyphs">Art</text>
<text x="223.5" y="1505" font-size="13.5" fill="#fff6cf" font-weight="700" text-anchor="middle" textLength="41" lengthAdjust="spacingAndGlyphs">Class</text>
<circle cx="236.8" cy="1490.4" r="4.6" fill="#1f1d14"/>
<circle cx="256.1" cy="1494.4" r="4.8" fill="#1f1d14"/>
<circle cx="235.6" cy="1489" r="1.5" fill="#6d6a50"/>
<circle cx="254.8" cy="1493" r="1.6" fill="#6d6a50"/>
<rect x="184.5" y="1511.5" width="8.5" height="5" fill="#333"/>
<rect x="184.5" y="1517.6" width="11" height="1" fill="#555"/>
<rect x="198" y="1512.8" width="16" height="0.8" fill="#c96"/>
<rect x="205" y="1519.4" width="10" height="0.9" fill="#d22"/>
<rect x="48.5" y="1443.0" width="126.0" height="79.5" fill="#999" rx="2.5" opacity="0.35" filter="url(#blur1)"/>
<rect x="47.5" y="1441.5" width="126.0" height="79.5" fill="#f9f9f9" rx="2.5" stroke="#dcdcdc" stroke-width="0.6"/>
<rect x="51.5" y="1445.5" width="118.0" height="71.5" fill="#fff" rx="0.8"/>
<rect x="51.5" y="1448.2" width="116" height="69.2" fill="#fff"/>
<rect x="51.5" y="1448.2" width="116" height="14.1" fill="#0a0a0a"/>
<rect x="51.5" y="1492.8" width="116" height="24.6" fill="#0a0a0a"/>
<text x="55" y="1458.7" font-size="7.6" fill="#fff" font-weight="700" textLength="77" lengthAdjust="spacingAndGlyphs">Local Jelly Oranges</text>
<rect x="101.3" y="1462.2" width="0.8" height="30.8" fill="#d22"/>
<rect x="137" y="1462.2" width="0.8" height="30.8" fill="#d22"/>
<path d="M57,1468 h4.4 v10.5 h3.3 l-5.5,7.2 l-5.5,-7.2 h3.3z" fill="#dd1a1a"/>
<text x="83" y="1476.5" font-size="10.6" fill="#dd1a1a" font-weight="700" text-anchor="middle" textLength="27" lengthAdjust="spacingAndGlyphs">Sale</text>
<text x="83" y="1488.5" font-size="10" fill="#dd1a1a" font-weight="700" text-anchor="middle" textLength="27" lengthAdjust="spacingAndGlyphs">-30%</text>
<text x="119.2" y="1470.2" font-size="4.4" fill="#dd1a1a" font-weight="700" text-anchor="middle">Listing Date:</text>
<text x="119.2" y="1477.6" font-size="4.4" fill="#dd1a1a" font-weight="700" text-anchor="middle">15-03-2025</text>
<text x="119.2" y="1486.2" font-size="5" fill="#dd1a1a" font-weight="700" text-anchor="middle">Level: A</text>
<text x="152.3" y="1475.8" font-size="4.2" fill="#dd1a1a" font-weight="700" text-anchor="middle">Salesperson:</text>
<text x="152.3" y="1482.6" font-size="4.2" fill="#dd1a1a" font-weight="700" text-anchor="middle">Lisa</text>
<text x="120" y="1502.4" font-size="8" fill="#ffd21a" font-weight="700" text-anchor="middle">$</text>
<rect x="112.5" y="1504.2" width="14.5" height="0.9" fill="#ffd21a"/>
<text x="120" y="1513.2" font-size="7" fill="#ffd21a" font-weight="700" text-anchor="middle">Kg</text>
<text x="128.5" y="1512.6" font-size="16" fill="#ffd21a" font-weight="700" textLength="37" lengthAdjust="spacingAndGlyphs">16.69</text>
<rect x="214" y="1501.2" width="68.69999999999999" height="52.899999999999864" fill="#999" rx="2.5" opacity="0.35" filter="url(#blur1)"/>
<rect x="213" y="1499.7" width="68.69999999999999" height="52.899999999999864" fill="#f8f8f8" rx="2.5" stroke="#dcdcdc" stroke-width="0.6"/>
<rect x="216.3" y="1503.0" width="62.09999999999999" height="46.29999999999986" fill="#fff" rx="0.8"/>
<ellipse cx="228.6" cy="1523.5" rx="14.5" ry="17.5" fill="url(#loveg)"/>
<text x="228.5" y="1532" font-size="10.5" fill="#fff" text-anchor="middle" textLength="17.5" lengthAdjust="spacingAndGlyphs" font-style="italic" font-family="Liberation Serif, serif" transform="rotate(-16 228.5 1529)">love</text>
<text x="272.7" y="1513" font-size="3.6" fill="#222" font-weight="700" text-anchor="end" textLength="39" lengthAdjust="spacingAndGlyphs" font-style="italic" font-family="Liberation Serif, serif">Valentine's Day Special</text>
<rect x="246.7" y="1518.8" width="26" height="1" fill="#555"/>
<rect x="255.7" y="1524.0" width="17" height="1" fill="#555"/>
<rect x="256.7" y="1529.2" width="16" height="1" fill="#555"/>
<path d="M239,1540 q1,-4 5,-4.2 l27,-1.6 q3,0.2 2.6,3.4 l-0.6,6.4 q-0.4,2.6 -4,2.8 l-27,1.2 q-3.6,-0.4 -3.4,-4z" fill="#e3271c"/>
<text x="256.3" y="1545.6" font-size="8" fill="#fbd21c" font-weight="700" text-anchor="middle" textLength="26" lengthAdjust="spacingAndGlyphs" transform="rotate(-3 256 1543)">$8,580</text>
<rect x="39" y="1524.0" width="79" height="35.0" fill="#999" rx="2.5" opacity="0.35" filter="url(#blur1)"/>
<rect x="38" y="1522.5" width="79" height="35.0" fill="#f8f8f8" rx="2.5" stroke="#dcdcdc" stroke-width="0.6"/>
<rect x="41" y="1525.5" width="73" height="29.0" fill="#fff" rx="0.8"/>
<path d="M42.5,1530 l30,-4 l1,9 l-30,5z" fill="#e02020"/>
<text x="46" y="1536.8" font-size="6.6" fill="#fff" font-weight="700" textLength="21" lengthAdjust="spacingAndGlyphs" transform="rotate(-8 46 1536)">SALE</text>
<rect x="76.5" y="1528.6" width="28" height="1.1" fill="#333"/>
<rect x="76.5" y="1532.6" width="18" height="1.1" fill="#333"/>
<text x="75" y="1550" font-size="6" fill="#f0b61c" font-weight="700">$</text>
<text x="79.5" y="1550.6" font-size="11.6" fill="#f7cf2e" font-weight="700" textLength="28" lengthAdjust="spacingAndGlyphs" stroke="#e2a512" stroke-width="0.4">199</text>
<path d="M43.00,1545.5h0.8v5h-0.8z M44.80,1545.5h2.2v5h-2.2z M48.60,1545.5h1.4v5h-1.4z M51.00,1545.5h0.8v5h-0.8z M52.80,1545.5h0.8v5h-0.8z M55.20,1545.5h0.8v5h-0.8z M56.80,1545.5h0.8v5h-0.8z M58.60,1545.5h2.2v5h-2.2z M61.60,1545.5h0.8v5h-0.8z M63.20,1545.5h0.8v5h-0.8z M65.60,1545.5h0.8v5h-0.8z" fill="#222"/>
<rect x="127" y="1518.5" width="80" height="39" fill="#999" rx="2.5" opacity="0.35" filter="url(#blur1)"/>
<rect x="126" y="1517" width="80" height="39" fill="#f8f8f8" rx="2.5" stroke="#dcdcdc" stroke-width="0.6"/>
<rect x="129.2" y="1520.2" width="73.6" height="32.6" fill="#fff" rx="0.8"/>
<rect x="133" y="1521.5" width="14" height="30" fill="#fbe27a"/>
<rect x="147" y="1537" width="8" height="14" fill="#fbe27a"/>
<text x="163" y="1534.5" font-size="9.4" fill="#d2321a" font-weight="700" text-anchor="middle" textLength="41" lengthAdjust="spacingAndGlyphs" font-family="Liberation Serif, serif">ORGANIC</text>
<text x="160.5" y="1549.2" font-size="9.4" fill="#d2321a" font-weight="700" text-anchor="middle" textLength="27" lengthAdjust="spacingAndGlyphs" font-family="Liberation Serif, serif">HONEY</text>
<circle cx="190" cy="1530" r="1.6" fill="#222"/>
<circle cx="189" cy="1538.8" r="1.4" fill="#222"/>
<circle cx="184.5" cy="1546.5" r="1.4" fill="#222"/>
<rect x="43" y="1561.5" width="33.5" height="26.5" fill="#999" rx="2.5" opacity="0.35" filter="url(#blur1)"/>
<rect x="42" y="1560" width="33.5" height="26.5" fill="#f8f8f8" rx="2.5" stroke="#dcdcdc" stroke-width="0.6"/>
<rect x="44.6" y="1562.6" width="28.3" height="21.3" fill="#fff" rx="0.8"/>
<rect x="50.5" y="1563.5" width="15.5" height="19.5" fill="#fbd31c"/>
<rect x="52.5" y="1571.5" width="11.5" height="3.2" fill="#d22"/>
<rect x="53.5" y="1566" width="9.5" height="1.2" fill="#a60"/>
<rect x="53.5" y="1578.5" width="9.5" height="1.2" fill="#a60"/>
<rect x="85.5" y="1561.5" width="57.5" height="26.5" fill="#999" rx="2.5" opacity="0.35" filter="url(#blur1)"/>
<rect x="84.5" y="1560" width="57.5" height="26.5" fill="#f8f8f8" rx="2.5" stroke="#dcdcdc" stroke-width="0.6"/>
<rect x="87.1" y="1562.6" width="52.3" height="21.3" fill="#fff" rx="0.8"/>
<rect x="92.5" y="1566.5" width="33" height="16.5" fill="#fbd31c" rx="1.2"/>
<rect x="94" y="1568" width="14" height="1.6" fill="#d22"/>
<text x="94" y="1580.4" font-size="5.6" fill="#d22" font-weight="700" textLength="17" lengthAdjust="spacingAndGlyphs">$16.80</text>
<circle cx="127.5" cy="1574.6" r="4.8" fill="#fff" stroke="#222" stroke-width="1.1"/>
<circle cx="127.5" cy="1574.6" r="1.6" fill="#222"/>
<rect x="93" y="1563" width="12" height="1" fill="#d22"/>
<rect x="151" y="1558.5" width="58" height="29.5" fill="#999" rx="2.5" opacity="0.35" filter="url(#blur1)"/>
<rect x="150" y="1557" width="58" height="29.5" fill="#f8f8f8" rx="2.5" stroke="#dcdcdc" stroke-width="0.6"/>
<rect x="152.6" y="1559.6" width="52.8" height="24.3" fill="#fff" rx="0.8"/>
<path d="M156.5,1561.5 q12,1 11,22 l-11,0z" fill="#fbd31c"/>
<path d="M190,1561.5 l14.5,0 l0,22 l-9,0 q4,-12 -5.5,-22z" fill="#e02020"/>
<text x="181.5" y="1572" font-size="7.6" fill="#111" font-weight="700" text-anchor="middle" textLength="19" lengthAdjust="spacingAndGlyphs">NEW</text>
<text x="181" y="1581.2" font-size="7.2" fill="#111" font-weight="700" text-anchor="middle" textLength="36" lengthAdjust="spacingAndGlyphs">ARRIVAL</text>
<rect x="215" y="1554.5" width="75" height="33.5" fill="#999" rx="2.5" opacity="0.35" filter="url(#blur1)"/>
<rect x="214" y="1553" width="75" height="33.5" fill="#f8f8f8" rx="2.5" stroke="#dcdcdc" stroke-width="0.6"/>
<rect x="216.8" y="1555.8" width="69.4" height="27.9" fill="#fff" rx="0.8"/>
<rect x="217" y="1574.5" width="69" height="9.2" fill="#fbd31c"/>
<path d="M221.5,1566.5 l10.5,0 l-1.5,14.5 l-7.5,0z" fill="#e02020"/>
<rect x="222.3" y="1560.5" width="1.3" height="7" fill="#f7b62a"/>
<rect x="224.3" y="1561.7" width="1.3" height="7" fill="#f7b62a"/>
<rect x="226.3" y="1560.5" width="1.3" height="7" fill="#f7b62a"/>
<rect x="228.3" y="1561.7" width="1.3" height="7" fill="#f7b62a"/>
<rect x="230.3" y="1560.5" width="1.3" height="7" fill="#f7b62a"/>
<text x="261.5" y="1561.8" font-size="3.6" fill="#222" font-weight="700" text-anchor="middle" textLength="26" lengthAdjust="spacingAndGlyphs">Ipomoea batatas</text>
<rect x="244" y="1565.5" width="28" height="0.9" fill="#777"/>
<text x="262" y="1575" font-size="8.4" fill="#e02020" font-weight="700" text-anchor="middle" textLength="25" lengthAdjust="spacingAndGlyphs">$6.99</text>
<path d="M247.50,1577.5h0.8v4.6h-0.8z M249.90,1577.5h0.8v4.6h-0.8z M251.70,1577.5h2.2v4.6h-2.2z M255.50,1577.5h0.8v4.6h-0.8z M257.90,1577.5h1.4v4.6h-1.4z M260.90,1577.5h2.2v4.6h-2.2z M264.10,1577.5h1.4v4.6h-1.4z M267.10,1577.5h0.8v4.6h-0.8z M268.90,1577.5h2.2v4.6h-2.2z M272.10,1577.5h2.2v4.6h-2.2z M275.10,1577.5h2.2v4.6h-2.2z" fill="#222"/>
<ellipse cx="432" cy="1690" rx="50" ry="100" fill="#8a8a8a" opacity="0.22" filter="url(#blur10)"/>
<ellipse cx="420" cy="1785" rx="50" ry="9" fill="#777" opacity="0.22" filter="url(#blur6)"/>
<rect x="357.8" y="1564.2" width="109.69999999999999" height="220.0999999999999" fill="url(#pfr)" rx="16"/>
<rect x="359.0" y="1565.4" width="107.29999999999998" height="217.6999999999999" fill="none" rx="14.8" stroke="#666" stroke-width="1" opacity="0.6"/>
<rect x="361.8" y="1568.2" width="101.69999999999999" height="212.0999999999999" fill="#0d0d0d" rx="12"/>
<rect x="363.8" y="1571.4" width="97.69999999999999" height="206.79999999999995" fill="#f8f9fd" rx="10.5"/>
<clipPath id="p2c"><rect x="363.8" y="1571.4" width="97.7" height="206.8" rx="10.5"/></clipPath>
<g clip-path="url(#p2c)">
<g transform="translate(363.8,1571.4) scale(0.685133239831697)">
<rect x="0" y="0" width="143" height="305" fill="#fbfcff"/>
<path d="M8.5,10.5 l-3.2,3.6 l3.2,3.6" fill="none" stroke="#222" stroke-width="1.2"/>
<text x="25" y="17.4" font-size="8.6" fill="#1c1c1c" textLength="35.5" lengthAdjust="spacingAndGlyphs" stroke="#1c1c1c" stroke-width="0.25">BLE Bind</text>
<circle cx="132.3" cy="14" r="3.4" fill="none" stroke="#444" stroke-width="0.8"/>
<text x="132.3" y="16" font-size="4.8" fill="#444" font-weight="700" text-anchor="middle">?</text>
<rect x="5.6" y="25" width="130.6" height="56.5" fill="#f1f3f8" rx="4"/>
<path d="M17,33.2 h4.6 l4,4 l-3.4,3.4 l-4,-4 l-1.2,-1z" fill="#222"/>
<text x="30.5" y="38" font-size="5.8" fill="#333" textLength="26" lengthAdjust="spacingAndGlyphs" stroke="#333" stroke-width="0.08">Esl Code</text>
<rect x="13.5" y="45" width="115" height="0.9" fill="#c9ccd6"/>
<path d="M17.5,57.5 h7 v6.5 h-7z M19,57.5 v-1.4 q2,-2.4 4,0 v1.4" fill="#222" stroke="#222" stroke-width="0.5"/>
<text x="30.5" y="62.3" font-size="5.8" fill="#333" textLength="41" lengthAdjust="spacingAndGlyphs" stroke="#333" stroke-width="0.08">Product Code</text>
<rect x="116.5" y="56" width="5.2" height="7" fill="none" rx="0.8" stroke="#333" stroke-width="0.8"/>
<rect x="118" y="59.5" width="2.4" height="1.8" fill="#333"/>
<rect x="13.5" y="69.4" width="115" height="0.9" fill="#c9ccd6"/>
<rect x="5.6" y="89.4" width="130.6" height="25.6" fill="#f1f3f8" rx="4"/>
<rect x="13" y="99.5" width="6.6" height="5.6" fill="#333" rx="0.8"/>
<rect x="14.2" y="98" width="6.6" height="5.6" fill="none" rx="0.8" stroke="#333" stroke-width="0.7"/>
<text x="26.5" y="100.8" font-size="5.8" fill="#222" textLength="27" lengthAdjust="spacingAndGlyphs" stroke="#222" stroke-width="0.1">Template</text>
<text x="26.5" y="108.6" font-size="4.4" fill="#333" textLength="18" lengthAdjust="spacingAndGlyphs" stroke="#333" stroke-width="0.06">Default</text>
<path d="M121.5,99.6 l2.6,2.6 l-2.6,2.6" fill="none" stroke="#333" stroke-width="0.8"/>
<rect x="5.6" y="118.9" width="130.6" height="20.3" fill="#f1f3f8" rx="4"/>
<path d="M13,126 h4.5 l2,2.4 l-2,2.4 h-4.5 l1.6,-2.4z" fill="#333"/>
<circle cx="19.8" cy="130.3" r="2" fill="#f1f3f8" stroke="#333" stroke-width="0.6"/>
<text x="26.5" y="131.2" font-size="5.8" fill="#222" textLength="22.5" lengthAdjust="spacingAndGlyphs" stroke="#222" stroke-width="0.1">Waiting</text>
<text x="124.7" y="131.2" font-size="4.8" fill="#333" text-anchor="middle">0</text>
<rect x="101.8" y="279" width="35.5" height="22" fill="#9aa7c7" rx="4.5" opacity="0.45" filter="url(#blur1)"/>
<rect x="100.8" y="277.2" width="35.5" height="20.7" fill="#d6e4fb" rx="4.5"/>
<circle cx="109.5" cy="287.5" r="1.5" fill="none" stroke="#334" stroke-width="0.6"/>
<path d="M106.3,286 v-1.7 h1.7 M111,284.3 h1.7 v1.7 M112.7,289 v1.7 h-1.7 M108,290.7 h-1.7 v-1.7" fill="none" stroke="#334" stroke-width="0.6"/>
<text x="123.2" y="289.6" font-size="4.8" fill="#223" text-anchor="middle" textLength="12" lengthAdjust="spacingAndGlyphs" stroke="#223" stroke-width="0.06">Scan</text>
</g>
</g>
<text x="55.54" y="1660.5" font-size="24.6" fill="#6c6e8b" font-weight="700" textLength="60.67" lengthAdjust="spacingAndGlyphs" stroke="#6c6e8b" stroke-width="0.69" stroke-linejoin="round" word-spacing="-1.97">scan</text>
<text x="199.15" y="1669.7" font-size="24.6" fill="#6c6e8b" font-weight="700" textLength="85.06" lengthAdjust="spacingAndGlyphs" stroke="#6c6e8b" stroke-width="0.69" stroke-linejoin="round" word-spacing="-1.97">search</text>
<text x="67.82" y="1719" font-size="24.6" fill="#6c6e8b" font-weight="700" textLength="99.68" lengthAdjust="spacingAndGlyphs" stroke="#6c6e8b" stroke-width="0.69" stroke-linejoin="round" word-spacing="-1.97">connect</text>
<text x="138.93" y="1763" font-size="24.6" fill="#6c6e8b" font-weight="700" textLength="177.63" lengthAdjust="spacingAndGlyphs" stroke="#6c6e8b" stroke-width="0.69" stroke-linejoin="round" word-spacing="-1.97">read and write</text>
<text x="490.16" y="1642.9" font-size="24.6" fill="#6c6e8b" font-weight="700" textLength="225.29" lengthAdjust="spacingAndGlyphs" stroke="#6c6e8b" stroke-width="0.69" stroke-linejoin="round" word-spacing="-1.97">Binding templates</text>
<path d="M119.2,1623.5 L119.7,1624.3 L120.4,1625.3 L121.2,1626.4 L122.1,1627.7 L123.0,1629.1 L124.1,1630.6 L125.2,1632.2 L126.3,1633.8 L127.4,1635.4 L128.5,1637.0 L129.6,1638.6 L130.7,1640.1 L131.7,1641.6 L132.7,1642.9 L133.5,1644.1 L134.2,1645.2 L134.9,1646.2 L135.5,1647.3 L136.2,1648.4 L136.9,1649.4 L137.6,1650.6 L138.3,1651.7 L139.2,1652.9 L140.1,1654.1 L141.2,1655.4 L142.4,1656.7 L143.7,1658.1 L145.2,1659.5 L146.7,1660.9 L148.4,1662.4 L150.2,1664.0 L152.1,1665.7 L154.1,1667.4 L156.2,1669.1 L158.3,1670.8 L160.6,1672.6 L162.9,1674.3 L165.2,1676.0 L167.7,1677.7 L170.1,1679.3 L172.6,1680.9 L175.2,1682.4 L177.7,1683.8 L180.3,1685.2 L183.0,1686.6 L185.7,1688.0 L188.4,1689.4 L191.2,1690.7 L194.1,1692.0 L197.0,1693.2 L200.0,1694.4 L203.0,1695.6 L206.1,1696.7 L209.2,1697.8 L212.3,1698.8 L215.5,1699.8 L218.8,1700.7 L222.2,1701.6 L225.6,1702.4 L229.1,1703.3 L232.6,1704.0 L236.2,1704.8 L239.8,1705.5 L243.5,1706.1 L247.1,1706.7 L250.8,1707.2 L254.5,1707.7 L258.1,1708.0 L261.7,1708.4 L265.3,1708.6 L269.0,1708.7 L272.9,1708.7 L276.9,1708.6 L281.0,1708.4 L285.1,1708.1 L289.2,1707.8 L293.2,1707.4 L297.1,1707.1 L300.8,1706.7 L304.3,1706.3 L307.5,1705.9 L310.3,1705.6 L312.7,1705.4 L314.7,1705.2 L314.7,1704.4 L312.7,1704.4 L310.2,1704.5 L307.4,1704.5 L304.2,1704.6 L300.7,1704.7 L297.0,1704.8 L293.1,1704.9 L289.1,1704.9 L285.0,1704.9 L280.9,1704.9 L276.9,1704.8 L273.0,1704.6 L269.2,1704.3 L265.7,1704.0 L262.2,1703.6 L258.7,1703.1 L255.2,1702.5 L251.6,1701.9 L248.1,1701.3 L244.5,1700.5 L241.0,1699.8 L237.5,1699.0 L234.0,1698.1 L230.5,1697.2 L227.2,1696.3 L223.8,1695.4 L220.6,1694.4 L217.5,1693.4 L214.4,1692.4 L211.4,1691.4 L208.4,1690.3 L205.4,1689.2 L202.6,1688.0 L199.7,1686.8 L196.9,1685.6 L194.2,1684.3 L191.5,1683.0 L188.8,1681.7 L186.2,1680.4 L183.7,1679.0 L181.2,1677.6 L178.8,1676.2 L176.5,1674.7 L174.2,1673.2 L171.9,1671.6 L169.7,1670.0 L167.5,1668.3 L165.3,1666.6 L163.2,1664.8 L161.2,1663.1 L159.3,1661.4 L157.4,1659.7 L155.6,1658.0 L153.9,1656.5 L152.3,1655.0 L150.8,1653.5 L149.5,1652.3 L148.4,1651.1 L147.5,1650.0 L146.6,1648.9 L145.9,1647.9 L145.2,1647.0 L144.5,1646.0 L143.9,1645.0 L143.2,1644.0 L142.6,1642.9 L141.9,1641.8 L141.1,1640.6 L140.3,1639.4 L139.3,1638.1 L138.3,1636.8 L137.3,1635.4 L136.2,1633.9 L135.0,1632.3 L133.9,1630.8 L132.7,1629.2 L131.5,1627.6 L130.4,1626.1 L129.3,1624.6 L128.3,1623.3 L127.4,1622.0 L126.5,1620.9 L125.8,1619.9 L125.2,1619.1 Z" fill="#38383b" stroke="#38383b" stroke-width="0.6" stroke-linejoin="round"/>
<circle cx="122.2" cy="1621.3" r="3.8" fill="#38383b"/>
<circle cx="314.7" cy="1704.8" r="0.4" fill="#38383b"/>
<path d="M120.0,1623.2 L120.9,1623.6 L122.0,1624.1 L123.3,1624.8 L124.7,1625.4 L126.2,1626.2 L127.9,1627.0 L129.6,1627.8 L131.4,1628.7 L133.2,1629.5 L135.0,1630.4 L136.8,1631.3 L138.6,1632.1 L140.3,1633.0 L141.9,1633.7 L143.6,1634.5 L145.3,1635.4 L147.1,1636.2 L149.0,1637.1 L150.9,1638.0 L152.8,1638.9 L154.6,1639.8 L156.4,1640.6 L158.1,1641.4 L159.7,1642.2 L161.2,1642.9 L162.5,1643.5 L163.7,1644.0 L164.6,1644.5 L167.4,1638.7 L166.5,1638.3 L165.4,1637.7 L164.1,1637.0 L162.7,1636.3 L161.1,1635.4 L159.4,1634.6 L157.7,1633.6 L155.8,1632.7 L154.0,1631.7 L152.1,1630.8 L150.3,1629.8 L148.5,1628.9 L146.7,1628.1 L145.1,1627.3 L143.4,1626.5 L141.7,1625.6 L139.9,1624.8 L138.0,1624.0 L136.2,1623.1 L134.3,1622.3 L132.5,1621.5 L130.7,1620.7 L129.1,1620.0 L127.5,1619.3 L126.1,1618.7 L124.8,1618.1 L123.7,1617.6 L122.8,1617.2 Z" fill="#38383b" stroke="#38383b" stroke-width="0.6" stroke-linejoin="round"/>
<circle cx="121.4" cy="1620.2" r="3.3" fill="#38383b"/>
<circle cx="166" cy="1641.6" r="3.2" fill="#38383b"/>
<path d="M118.5,1621.7 L119.1,1623.0 L119.8,1624.5 L120.7,1626.4 L121.7,1628.4 L122.8,1630.7 L124.0,1633.0 L125.2,1635.5 L126.4,1638.1 L127.7,1640.7 L129.0,1643.3 L130.2,1645.9 L131.4,1648.4 L132.6,1650.8 L133.7,1653.1 L134.7,1655.3 L135.8,1657.7 L137.0,1660.1 L138.1,1662.6 L139.3,1665.2 L140.5,1667.7 L141.6,1670.1 L142.7,1672.5 L143.7,1674.7 L144.7,1676.9 L145.6,1678.8 L146.4,1680.6 L147.1,1682.1 L147.7,1683.3 L153.5,1680.7 L153.0,1679.5 L152.4,1677.9 L151.6,1676.2 L150.8,1674.2 L149.9,1672.0 L149.0,1669.7 L148.0,1667.3 L146.9,1664.8 L145.8,1662.3 L144.7,1659.7 L143.6,1657.1 L142.5,1654.6 L141.4,1652.2 L140.3,1649.9 L139.2,1647.6 L138.1,1645.2 L136.8,1642.7 L135.5,1640.1 L134.2,1637.5 L132.8,1634.9 L131.5,1632.4 L130.2,1629.9 L129.0,1627.5 L127.8,1625.3 L126.8,1623.3 L125.8,1621.5 L125.0,1620.0 L124.3,1618.7 Z" fill="#38383b" stroke="#38383b" stroke-width="0.6" stroke-linejoin="round"/>
<circle cx="121.4" cy="1620.2" r="3.3" fill="#38383b"/>
<circle cx="150.6" cy="1682" r="3.2" fill="#38383b"/>
<path d="M673.6,1565.1 L673.3,1566.1 L673.0,1567.4 L672.6,1568.9 L672.2,1570.5 L671.7,1572.3 L671.2,1574.2 L670.7,1576.2 L670.1,1578.3 L669.5,1580.3 L668.9,1582.4 L668.2,1584.5 L667.5,1586.5 L666.9,1588.3 L666.2,1590.1 L665.5,1591.8 L664.7,1593.5 L663.9,1595.2 L663.2,1596.9 L662.3,1598.6 L661.5,1600.2 L660.6,1601.9 L659.7,1603.5 L658.8,1605.1 L657.9,1606.8 L656.9,1608.4 L655.9,1610.0 L654.9,1611.6 L653.9,1613.1 L652.8,1614.7 L651.7,1616.3 L650.5,1617.9 L649.3,1619.5 L648.1,1621.1 L646.9,1622.7 L645.6,1624.3 L644.3,1625.8 L643.1,1627.3 L641.8,1628.8 L640.5,1630.3 L639.2,1631.7 L638.0,1633.0 L636.8,1634.3 L635.6,1635.5 L634.4,1636.7 L633.2,1637.8 L632.1,1638.9 L631.0,1639.9 L629.9,1640.8 L628.7,1641.8 L627.6,1642.8 L626.4,1643.7 L625.2,1644.7 L623.9,1645.6 L622.6,1646.6 L621.2,1647.7 L619.8,1648.8 L618.3,1649.9 L616.7,1651.1 L615.2,1652.3 L613.5,1653.5 L611.9,1654.7 L610.2,1655.9 L608.5,1657.1 L606.8,1658.3 L605.0,1659.5 L603.3,1660.7 L601.5,1661.8 L599.8,1662.9 L598.0,1663.9 L596.3,1664.9 L594.5,1665.8 L592.7,1666.8 L590.9,1667.7 L589.0,1668.5 L587.2,1669.4 L585.3,1670.2 L583.5,1671.0 L581.6,1671.8 L579.6,1672.6 L577.7,1673.3 L575.8,1674.0 L573.8,1674.7 L571.8,1675.4 L569.8,1676.0 L567.9,1676.6 L565.8,1677.2 L563.8,1677.7 L561.8,1678.2 L559.7,1678.7 L557.6,1679.1 L555.5,1679.5 L553.4,1680.0 L551.2,1680.4 L549.0,1680.8 L546.8,1681.2 L544.5,1681.6 L542.3,1682.0 L540.0,1682.4 L537.6,1682.8 L535.0,1683.2 L532.3,1683.6 L529.5,1684.0 L526.7,1684.5 L523.8,1684.9 L520.9,1685.3 L518.2,1685.7 L515.5,1686.0 L513.0,1686.4 L510.8,1686.7 L508.7,1687.0 L506.9,1687.2 L505.5,1687.4 L506.5,1695.0 L507.9,1694.8 L509.6,1694.6 L511.7,1694.4 L514.0,1694.2 L516.5,1693.9 L519.2,1693.6 L522.0,1693.4 L524.8,1693.0 L527.7,1692.7 L530.7,1692.4 L533.5,1692.0 L536.3,1691.6 L539.0,1691.2 L541.4,1690.8 L543.8,1690.4 L546.0,1690.0 L548.3,1689.6 L550.6,1689.2 L552.8,1688.8 L555.0,1688.3 L557.3,1687.9 L559.4,1687.4 L561.6,1686.9 L563.8,1686.3 L566.0,1685.7 L568.1,1685.1 L570.2,1684.5 L572.4,1683.8 L574.4,1683.1 L576.5,1682.3 L578.6,1681.6 L580.6,1680.8 L582.6,1680.0 L584.6,1679.1 L586.6,1678.2 L588.6,1677.3 L590.5,1676.4 L592.4,1675.4 L594.3,1674.4 L596.2,1673.4 L598.1,1672.4 L599.9,1671.3 L601.8,1670.2 L603.6,1669.0 L605.5,1667.8 L607.3,1666.5 L609.1,1665.2 L610.8,1663.9 L612.6,1662.6 L614.3,1661.3 L615.9,1660.0 L617.6,1658.6 L619.1,1657.3 L620.7,1656.1 L622.2,1654.8 L623.6,1653.6 L625.0,1652.5 L626.4,1651.4 L627.6,1650.3 L628.9,1649.2 L630.1,1648.1 L631.3,1647.1 L632.4,1646.0 L633.6,1644.9 L634.7,1643.8 L635.8,1642.7 L637.0,1641.5 L638.1,1640.3 L639.3,1639.0 L640.4,1637.7 L641.7,1636.3 L642.9,1634.8 L644.1,1633.3 L645.3,1631.8 L646.6,1630.2 L647.8,1628.5 L649.0,1626.9 L650.2,1625.2 L651.4,1623.5 L652.6,1621.8 L653.7,1620.1 L654.8,1618.4 L655.9,1616.7 L656.9,1615.1 L657.9,1613.4 L658.9,1611.7 L659.8,1610.0 L660.7,1608.3 L661.6,1606.6 L662.4,1604.9 L663.2,1603.2 L664.0,1601.4 L664.8,1599.7 L665.5,1597.9 L666.2,1596.2 L666.9,1594.4 L667.6,1592.7 L668.2,1590.9 L668.8,1589.0 L669.4,1587.1 L670.0,1585.0 L670.6,1582.9 L671.1,1580.8 L671.6,1578.6 L672.0,1576.5 L672.5,1574.5 L672.9,1572.6 L673.2,1570.8 L673.6,1569.1 L673.9,1567.6 L674.2,1566.3 L674.4,1565.3 Z" fill="#38383b" stroke="#38383b" stroke-width="0.6" stroke-linejoin="round"/>
<circle cx="674.0" cy="1565.2" r="0.4" fill="#38383b"/>
<circle cx="506" cy="1691.2" r="3.8" fill="#38383b"/>
<path d="M506.1,1694.3 L507.1,1693.8 L508.2,1693.1 L509.5,1692.4 L511.0,1691.6 L512.6,1690.7 L514.3,1689.8 L516.1,1688.8 L518.0,1687.7 L519.9,1686.7 L521.7,1685.7 L523.6,1684.6 L525.4,1683.6 L527.1,1682.7 L528.8,1681.7 L530.4,1680.8 L532.0,1679.9 L533.8,1678.9 L535.5,1677.9 L537.3,1676.9 L539.1,1675.9 L540.8,1674.9 L542.5,1673.9 L544.1,1673.0 L545.6,1672.1 L546.9,1671.3 L548.2,1670.6 L549.2,1670.0 L550.1,1669.5 L547.1,1664.1 L546.2,1664.5 L545.2,1665.1 L543.9,1665.7 L542.5,1666.4 L541.0,1667.2 L539.3,1668.1 L537.6,1668.9 L535.8,1669.9 L534.0,1670.8 L532.2,1671.7 L530.4,1672.7 L528.6,1673.6 L526.9,1674.6 L525.2,1675.5 L523.6,1676.4 L521.9,1677.4 L520.1,1678.4 L518.2,1679.5 L516.4,1680.5 L514.5,1681.6 L512.7,1682.7 L510.9,1683.8 L509.2,1684.8 L507.6,1685.7 L506.2,1686.6 L504.9,1687.3 L503.8,1688.0 L502.9,1688.5 Z" fill="#38383b" stroke="#38383b" stroke-width="0.6" stroke-linejoin="round"/>
<circle cx="504.5" cy="1691.4" r="3.3" fill="#38383b"/>
<circle cx="548.6" cy="1666.8" r="3.1" fill="#38383b"/>
<path d="M504.2,1694.7 L505.7,1694.8 L507.5,1695.0 L509.6,1695.3 L512.0,1695.5 L514.5,1695.8 L517.3,1696.1 L520.2,1696.4 L523.1,1696.7 L526.2,1697.0 L529.2,1697.3 L532.2,1697.6 L535.2,1697.9 L538.0,1698.2 L540.7,1698.4 L543.4,1698.6 L546.2,1698.8 L549.1,1699.0 L552.1,1699.2 L555.1,1699.4 L558.1,1699.6 L561.0,1699.8 L563.9,1699.9 L566.6,1700.1 L569.1,1700.2 L571.4,1700.4 L573.5,1700.5 L575.3,1700.6 L576.8,1700.7 L577.2,1694.5 L575.8,1694.4 L574.0,1694.2 L571.9,1694.0 L569.6,1693.8 L567.1,1693.6 L564.4,1693.3 L561.5,1693.1 L558.6,1692.8 L555.6,1692.5 L552.6,1692.2 L549.7,1692.0 L546.8,1691.7 L544.0,1691.4 L541.3,1691.2 L538.6,1691.0 L535.8,1690.7 L532.9,1690.5 L529.9,1690.2 L526.8,1690.0 L523.8,1689.7 L520.8,1689.5 L517.9,1689.2 L515.2,1689.0 L512.6,1688.8 L510.2,1688.6 L508.1,1688.4 L506.3,1688.2 L504.8,1688.1 Z" fill="#38383b" stroke="#38383b" stroke-width="0.6" stroke-linejoin="round"/>
<circle cx="504.5" cy="1691.4" r="3.3" fill="#38383b"/>
<circle cx="577" cy="1697.6" r="3.1" fill="#38383b"/>
<rect x="77" y="1908" width="147.2" height="300.8000000000002" fill="#000" rx="24" opacity="0.30" filter="url(#blur14)"/>
<rect x="61" y="1912" width="145.2" height="298.8000000000002" fill="#000" rx="22" opacity="0.22" filter="url(#blur6)"/>
<rect x="41" y="1882" width="161.2" height="322.8000000000002" fill="url(#pfr)" rx="20"/>
<rect x="42.2" y="1883.2" width="158.79999999999998" height="320.4000000000002" fill="none" rx="18.8" stroke="#666" stroke-width="1" opacity="0.6"/>
<rect x="46.2" y="1887.2" width="150.79999999999998" height="312.4000000000002" fill="#0d0d0d" rx="14.8"/>
<rect x="49.4" y="1891.5" width="142.6" height="304.0999999999999" fill="#f8f9fd" rx="12.5"/>
<clipPath id="pAc"><rect x="49.4" y="1891.5" width="142.6" height="304.1" rx="12.5"/></clipPath>
<g clip-path="url(#pAc)">
<rect x="49" y="1891.5" width="144" height="306" fill="#f9fafd"/>
<path d="M49,1891 H193 V2007.5 H92 C66,2007.5 49,1999 49,1985 Z" fill="#405d95"/>
<path d="M116.5,1938.5 h-4.5 a6.2,6.2 0 0 0 0,12.4 h4.5 M122.5,1938.5 h4.5 a6.2,6.2 0 0 1 0,12.4 h-4.5 M113.5,1944.7 h12" fill="none" stroke="#fff" stroke-width="2.6" stroke-linecap="round"/>
<text x="186.5" y="2000.3" font-size="4.4" fill="#fff" font-weight="700" text-anchor="end" textLength="12.5" lengthAdjust="spacingAndGlyphs">1.4.2</text>
<rect x="62.5" y="2016.5" width="114.5" height="20" fill="#fff" rx="1.2" stroke="#9aa0ad" stroke-width="0.7"/>
<rect x="65" y="2015" width="13" height="3" fill="#f9fafd"/>
<text x="66.2" y="2018.2" font-size="4.2" fill="#445">User</text>
<circle cx="70.3" cy="2025" r="1.4" fill="#333"/>
<path d="M67.6,2029.3 q2.7,-3.4 5.4,0z" fill="#333"/>
<circle cx="81.0" cy="2026.5" r="1.35" fill="#222"/>
<circle cx="85.2" cy="2026.5" r="1.35" fill="#222"/>
<circle cx="89.4" cy="2026.5" r="1.35" fill="#222"/>
<rect x="62.5" y="2044" width="114.5" height="20" fill="#fff" rx="1.2" stroke="#9aa0ad" stroke-width="0.7"/>
<rect x="65" y="2042.5" width="22" height="3" fill="#f9fafd"/>
<text x="66.2" y="2045.7" font-size="4.2" fill="#445">Password</text>
<circle cx="68.8" cy="2054" r="1.5" fill="none" stroke="#333" stroke-width="0.8"/>
<path d="M70.3,2054 h4.2 M73.3,2054 v1.4" fill="none" stroke="#333" stroke-width="0.8"/>
<circle cx="83.0" cy="2054.4" r="0.8" fill="#222"/>
<circle cx="88.6" cy="2054.4" r="0.8" fill="#222"/>
<circle cx="94.2" cy="2054.4" r="0.8" fill="#222"/>
<rect x="62.8" y="2070" width="5.6" height="5.6" fill="#405d95" rx="0.8"/>
<path d="M64,2072.8 l1.3,1.4 l2.2,-2.6" fill="none" stroke="#fff" stroke-width="0.7"/>
<text x="73.3" y="2074.7" font-size="4.7" fill="#222" textLength="37" lengthAdjust="spacingAndGlyphs" stroke="#222" stroke-width="0.15">Remember Me</text>
<text x="172.3" y="2074.7" font-size="4.7" fill="#3b4a6b" text-anchor="end" textLength="40.5" lengthAdjust="spacingAndGlyphs">Logged in Users</text>
<rect x="62.3" y="2082.4" width="114.7" height="17.3" fill="#405d95" rx="8.6"/>
<text x="119.6" y="2092.6" font-size="4.6" fill="#fff" font-weight="700" text-anchor="middle" textLength="15.5" lengthAdjust="spacingAndGlyphs">LOGIN</text>
<rect x="82.3" y="2103.6" width="75.5" height="15" fill="none" rx="0.6" stroke="#e0392f" stroke-width="0.8"/>
<text x="110.8" y="2110.6" font-size="4.7" fill="#3b4a6b" text-anchor="middle" textLength="32" lengthAdjust="spacingAndGlyphs">Change Host</text>
<path d="M137.3,2107 q3,-2 6,0 l-3,3.8z" fill="#556" stroke="#556" stroke-width="0.4"/>
</g>
<rect x="329" y="1907" width="146" height="302" fill="#000" rx="24" opacity="0.30" filter="url(#blur14)"/>
<rect x="313" y="1911" width="144" height="300" fill="#000" rx="22" opacity="0.22" filter="url(#blur6)"/>
<rect x="293" y="1881" width="160.39999999999998" height="323.8000000000002" fill="url(#pfr)" rx="20"/>
<rect x="294.2" y="1882.2" width="157.99999999999997" height="321.4000000000002" fill="none" rx="18.8" stroke="#666" stroke-width="1" opacity="0.6"/>
<rect x="298.2" y="1886.2" width="149.99999999999997" height="313.4000000000002" fill="#0d0d0d" rx="14.8"/>
<rect x="302" y="1890.6" width="142.2" height="305.0" fill="#f8f9fd" rx="12.5"/>
<clipPath id="pBc"><rect x="302" y="1890.6" width="142.2" height="305" rx="12.5"/></clipPath>
<g clip-path="url(#pBc)">
<rect x="301.5" y="1890" width="143.5" height="307" fill="#fbfcff"/>
<text x="308.5" y="1897.3" font-size="3.6" fill="#333" font-weight="700">4:11</text>
<rect x="407" y="1894.4" width="5" height="2.6" fill="#555" rx="0.5"/>
<rect x="414" y="1894.4" width="5" height="2.6" fill="#555" rx="0.5"/>
<rect x="421.5" y="1894.2" width="7" height="3" fill="none" rx="0.8" stroke="#555" stroke-width="0.6"/>
<text x="307" y="1919.8" font-size="8.5" fill="#1c1c1c" textLength="67.3" lengthAdjust="spacingAndGlyphs" stroke="#1c1c1c" stroke-width="0.12">Good Afternoon!</text>
<rect x="384.3" y="1901.6" width="32" height="21.4" fill="none" rx="0.5" stroke="#e0392f" stroke-width="0.9"/>
<text x="386.5" y="1918.4" font-size="4.4" fill="#222" textLength="9" lengthAdjust="spacingAndGlyphs" stroke="#222" stroke-width="0.12">BLE</text>
<path d="M400.4,1916 l1.6,1.7 l1.6,-1.7z" fill="#333"/>
<path d="M428.3,1916.6 a2.5,2.5 0 1 1 -0.7,-1.8 M427.9,1913.4 v1.6 h-1.6" fill="none" stroke="#333" stroke-width="0.7"/>
<rect x="309.5" y="1931" width="123.5" height="74.70000000000005" fill="#f1f3f8" rx="4"/>
<text x="314" y="1942.9" font-size="8" fill="#1c1c1c" textLength="75" lengthAdjust="spacingAndGlyphs" stroke="#1c1c1c" stroke-width="0.12">Total Bind Summary</text>
<circle cx="339.3" cy="1974.3" r="14.6" fill="none" stroke="#fbd5cf" stroke-width="5.2"/>
<text x="315.4" y="1976" font-size="3.6" fill="#222" textLength="17.5" lengthAdjust="spacingAndGlyphs" stroke="#222" stroke-width="0.12">100.0%</text>
<rect x="367" y="1952.5" width="60.5" height="49" fill="#aab" rx="3.2" opacity="0.35" filter="url(#blur1)"/>
<rect x="366" y="1951" width="60.5" height="49" fill="#eceef3" rx="3.2"/>
<text x="370.5" y="1960.3" font-size="4" fill="#222" textLength="19" lengthAdjust="spacingAndGlyphs" stroke="#222" stroke-width="0.08">Total: 3</text>
<rect x="369.5" y="1969.6" width="36" height="9.6" fill="#d6e4fb" rx="1.5"/>
<text x="370.8" y="1976.5" font-size="4" fill="#223" textLength="33" lengthAdjust="spacingAndGlyphs" stroke="#223" stroke-width="0.08">Has Bound: 0</text>
<rect x="369.5" y="1985.6" width="29.5" height="9.6" fill="#fbd5cf" rx="1.5"/>
<text x="370.8" y="1992.5" font-size="4" fill="#311" textLength="27.5" lengthAdjust="spacingAndGlyphs" stroke="#311" stroke-width="0.08">Not Bind: 3</text>
<rect x="309.5" y="2018" width="123.5" height="58.59999999999991" fill="#f1f3f8" rx="4"/>
<text x="314" y="2031.3" font-size="8" fill="#1c1c1c" textLength="89" lengthAdjust="spacingAndGlyphs" stroke="#1c1c1c" stroke-width="0.12">Today Update Summary</text>
<rect x="367" y="2047.5" width="60.5" height="17.5" fill="#aab" rx="3.2" opacity="0.35" filter="url(#blur1)"/>
<rect x="366" y="2046" width="60.5" height="17.5" fill="#eceef3" rx="3.2"/>
<text x="370.8" y="2055.8" font-size="4" fill="#222" textLength="22" lengthAdjust="spacingAndGlyphs" stroke="#222" stroke-width="0.08">Empty: 0</text>
<rect x="309.5" y="2088" width="123.5" height="73" fill="#f1f3f8" rx="4"/>
<path d="M314,2094.6 h5 l4.3,4.3 l-3.6,3.6 l-4.3,-4.3 l-1.4,-1.2z" fill="#222"/>
<text x="327.5" y="2100.7" font-size="5" fill="#222" textLength="27.5" lengthAdjust="spacingAndGlyphs" stroke="#222" stroke-width="0.12">Esl Status</text>
<rect x="313" y="2110" width="53.5" height="16.5" fill="#d6e4fb" rx="1.6"/>
<text x="317.6" y="2120.2" font-size="4.2" fill="#222" stroke="#222" stroke-width="0.08">Success</text>
<text x="361.0" y="2120.2" font-size="4.2" fill="#222" text-anchor="end" stroke="#222" stroke-width="0.08">3</text>
<rect x="374" y="2110" width="54" height="16.5" fill="#fbd8d3" rx="1.6"/>
<text x="378.6" y="2120.2" font-size="4.2" fill="#222" stroke="#222" stroke-width="0.08">Error</text>
<text x="422.5" y="2120.2" font-size="4.2" fill="#222" text-anchor="end" stroke="#222" stroke-width="0.08">0</text>
<rect x="313" y="2133" width="53.5" height="16.5" fill="#fbd8d3" rx="1.6"/>
<text x="317.6" y="2143.2" font-size="4.2" fill="#222" stroke="#222" stroke-width="0.08">Low Battery</text>
<text x="361.0" y="2143.2" font-size="4.2" fill="#222" text-anchor="end" stroke="#222" stroke-width="0.08">0</text>
<rect x="374" y="2133" width="54" height="16.5" fill="#e9ebef" rx="1.6"/>
<text x="378.6" y="2143.2" font-size="4.2" fill="#222" stroke="#222" stroke-width="0.08">Waiting</text>
<text x="422.5" y="2143.2" font-size="4.2" fill="#222" text-anchor="end" stroke="#222" stroke-width="0.08">0</text>
<rect x="302.6" y="2165" width="142" height="32" fill="#f1f3f9"/>
<rect x="308.5" y="2168.5" width="19" height="11" fill="#dbe5fa" rx="5.5"/>
<path d="M314.6,2175.6 l3.4,-3.2 l3.4,3.2 v3 h-2.4 v-2 h-2 v2 h-2.4z" fill="#222"/>
<circle cx="353" cy="2174.6" r="3" fill="none" stroke="#444" stroke-width="0.7"/>
<path d="M351.6,2176 l2.8,-2.8" fill="none" stroke="#444" stroke-width="0.7"/>
<rect x="384" y="2172.6" width="6.6" height="0.8" fill="#555"/>
<rect x="384" y="2174.4" width="6.6" height="0.8" fill="#555"/>
<rect x="384" y="2176.2" width="6.6" height="0.8" fill="#555"/>
<circle cx="422.6" cy="2174.6" r="2.6" fill="none" stroke="#444" stroke-width="1.2" stroke-dasharray="1.2 0.8"/>
<circle cx="422.6" cy="2174.6" r="0.9" fill="#444"/>
<text x="318" y="2186.6" font-size="3.5" fill="#333" font-weight="700" text-anchor="middle">Home</text>
<text x="353" y="2186.6" font-size="3.5" fill="#333" text-anchor="middle">Action</text>
<text x="387.3" y="2186.6" font-size="3.5" fill="#333" text-anchor="middle">Scene</text>
<text x="422.6" y="2186.6" font-size="3.5" fill="#333" text-anchor="middle">Settings</text>
</g>
<rect x="578" y="1908" width="147" height="301" fill="#000" rx="24" opacity="0.30" filter="url(#blur14)"/>
<rect x="562" y="1912" width="145" height="299" fill="#000" rx="22" opacity="0.22" filter="url(#blur6)"/>
<rect x="543.2" y="1882.2" width="160.19999999999993" height="322.60000000000014" fill="url(#pfr)" rx="20"/>
<rect x="544.4000000000001" y="1883.4" width="157.79999999999993" height="320.20000000000016" fill="none" rx="18.8" stroke="#666" stroke-width="1" opacity="0.6"/>
<rect x="548.4000000000001" y="1887.4" width="149.79999999999993" height="312.20000000000016" fill="#0d0d0d" rx="14.8"/>
<rect x="552" y="1892.2" width="142.39999999999998" height="303.39999999999986" fill="#f8f9fd" rx="12.5"/>
<clipPath id="pCc"><rect x="552" y="1892.2" width="142.4" height="303.4" rx="12.5"/></clipPath>
<g clip-path="url(#pCc)">
<g transform="translate(551.8,1892.3) scale(1)">
<rect x="0" y="0" width="143" height="305" fill="#fbfcff"/>
<path d="M8.5,10.5 l-3.2,3.6 l3.2,3.6" fill="none" stroke="#222" stroke-width="1.2"/>
<text x="25" y="17.4" font-size="8.6" fill="#1c1c1c" textLength="35.5" lengthAdjust="spacingAndGlyphs" stroke="#1c1c1c" stroke-width="0.25">BLE Bind</text>
<circle cx="132.3" cy="14" r="3.4" fill="none" stroke="#444" stroke-width="0.8"/>
<text x="132.3" y="16" font-size="4.8" fill="#444" font-weight="700" text-anchor="middle">?</text>
<rect x="5.6" y="25" width="130.6" height="56.5" fill="#f1f3f8" rx="4"/>
<path d="M17,33.2 h4.6 l4,4 l-3.4,3.4 l-4,-4 l-1.2,-1z" fill="#222"/>
<text x="30.5" y="38" font-size="5.8" fill="#333" textLength="26" lengthAdjust="spacingAndGlyphs" stroke="#333" stroke-width="0.08">Esl Code</text>
<rect x="13.5" y="45" width="115" height="0.9" fill="#c9ccd6"/>
<path d="M17.5,57.5 h7 v6.5 h-7z M19,57.5 v-1.4 q2,-2.4 4,0 v1.4" fill="#222" stroke="#222" stroke-width="0.5"/>
<text x="30.5" y="62.3" font-size="5.8" fill="#333" textLength="41" lengthAdjust="spacingAndGlyphs" stroke="#333" stroke-width="0.08">Product Code</text>
<rect x="116.5" y="56" width="5.2" height="7" fill="none" rx="0.8" stroke="#333" stroke-width="0.8"/>
<rect x="118" y="59.5" width="2.4" height="1.8" fill="#333"/>
<rect x="13.5" y="69.4" width="115" height="0.9" fill="#c9ccd6"/>
<rect x="5.6" y="89.4" width="130.6" height="25.6" fill="#f1f3f8" rx="4"/>
<rect x="13" y="99.5" width="6.6" height="5.6" fill="#333" rx="0.8"/>
<rect x="14.2" y="98" width="6.6" height="5.6" fill="none" rx="0.8" stroke="#333" stroke-width="0.7"/>
<text x="26.5" y="100.8" font-size="5.8" fill="#222" textLength="27" lengthAdjust="spacingAndGlyphs" stroke="#222" stroke-width="0.1">Template</text>
<text x="26.5" y="108.6" font-size="4.4" fill="#333" textLength="18" lengthAdjust="spacingAndGlyphs" stroke="#333" stroke-width="0.06">Default</text>
<path d="M121.5,99.6 l2.6,2.6 l-2.6,2.6" fill="none" stroke="#333" stroke-width="0.8"/>
<rect x="5.6" y="118.9" width="130.6" height="20.3" fill="#f1f3f8" rx="4"/>
<path d="M13,126 h4.5 l2,2.4 l-2,2.4 h-4.5 l1.6,-2.4z" fill="#333"/>
<circle cx="19.8" cy="130.3" r="2" fill="#f1f3f8" stroke="#333" stroke-width="0.6"/>
<text x="26.5" y="131.2" font-size="5.8" fill="#222" textLength="22.5" lengthAdjust="spacingAndGlyphs" stroke="#222" stroke-width="0.1">Waiting</text>
<text x="124.7" y="131.2" font-size="4.8" fill="#333" text-anchor="middle">0</text>
<rect x="101.8" y="279" width="35.5" height="22" fill="#9aa7c7" rx="4.5" opacity="0.45" filter="url(#blur1)"/>
<rect x="100.8" y="277.2" width="35.5" height="20.7" fill="#d6e4fb" rx="4.5"/>
<circle cx="109.5" cy="287.5" r="1.5" fill="none" stroke="#334" stroke-width="0.6"/>
<path d="M106.3,286 v-1.7 h1.7 M111,284.3 h1.7 v1.7 M112.7,289 v1.7 h-1.7 M108,290.7 h-1.7 v-1.7" fill="none" stroke="#334" stroke-width="0.6"/>
<text x="123.2" y="289.6" font-size="4.8" fill="#223" text-anchor="middle" textLength="12" lengthAdjust="spacingAndGlyphs" stroke="#223" stroke-width="0.06">Scan</text>
</g>
</g>
<circle cx="113.7" cy="2244.2" r="15.9" fill="#20202d"/>
<path d="M104.0,2264.5 A22,22 0 0 1 125.3,2226.0" fill="none" stroke="#20202d" stroke-width="1.4" stroke-linecap="round"/>
<text x="112.5" y="2253.7999999999997" font-size="27" fill="#fff" text-anchor="middle" stroke="#fff" stroke-width="0.5">1</text>
<circle cx="376" cy="2244" r="15.9" fill="#20202d"/>
<path d="M366.3,2264.3 A22,22 0 0 1 387.6,2225.8" fill="none" stroke="#20202d" stroke-width="1.4" stroke-linecap="round"/>
<text x="376" y="2253.6" font-size="27" fill="#fff" font-weight="700" text-anchor="middle" stroke="#fff" stroke-width="0.5">2</text>
<circle cx="628" cy="2244.4" r="15.9" fill="#20202d"/>
<path d="M618.3,2264.7 A22,22 0 0 1 639.6,2226.2" fill="none" stroke="#20202d" stroke-width="1.4" stroke-linecap="round"/>
<text x="628" y="2254.0" font-size="27" fill="#fff" font-weight="700" text-anchor="middle" stroke="#fff" stroke-width="0.5">3</text>
<text x="60.97" y="2300.2" font-size="23" fill="#8a8ba3" font-weight="700" textLength="120.2" lengthAdjust="spacingAndGlyphs" stroke="#8a8ba3" stroke-width="0.64" stroke-linejoin="round" word-spacing="-1.84">Login URL</text>
<text x="333.58" y="2292.6" font-size="23" fill="#8a8ba3" font-weight="700" textLength="73.86" lengthAdjust="spacingAndGlyphs" stroke="#8a8ba3" stroke-width="0.64" stroke-linejoin="round" word-spacing="-1.84">Using</text>
<text x="310.83" y="2317.9" font-size="23" fill="#8a8ba3" font-weight="700" textLength="125.12" lengthAdjust="spacingAndGlyphs" stroke="#8a8ba3" stroke-width="0.64" stroke-linejoin="round" word-spacing="-1.84">Bluetooth</text>
<text x="332.74" y="2342.1" font-size="23" fill="#8a8ba3" font-weight="700" textLength="79.19" lengthAdjust="spacingAndGlyphs" stroke="#8a8ba3" stroke-width="0.64" stroke-linejoin="round" word-spacing="-1.84">labels</text>
<text x="532.15" y="2293.7" font-size="23" fill="#8a8ba3" font-weight="700" textLength="188.08" lengthAdjust="spacingAndGlyphs" stroke="#8a8ba3" stroke-width="0.64" stroke-linejoin="round" word-spacing="-1.84">Bind Bluetooth</text>
<text x="583.51" y="2318" font-size="23" fill="#8a8ba3" font-weight="700" textLength="87.38" lengthAdjust="spacingAndGlyphs" stroke="#8a8ba3" stroke-width="0.64" stroke-linejoin="round" word-spacing="-1.84">tags to</text>
<text x="541.56" y="2343.3" font-size="23" fill="#8a8ba3" font-weight="700" textLength="174.02" lengthAdjust="spacingAndGlyphs" stroke="#8a8ba3" stroke-width="0.64" stroke-linejoin="round" word-spacing="-1.84">merchandise</text>
<path d="M317.1,2765.8 L429.6,2765.8 L429.6,2778.5 C429.6,2803.6 444.4,2822.2 456.4,2835.9 Q457.0,2839.4 452.4,2839.4 L294.4,2839.4 Q289.8,2839.4 290.4,2835.9 C302.4,2822.2 317.1,2803.6 317.1,2778.5 Z" fill="url(#stand)"/>
<path d="M317.1,2765.8 L429.6,2765.8 L429.6,2778.5 C429.6,2803.6 444.4,2822.2 456.4,2835.9 Q457.0,2839.4 452.4,2839.4 L294.4,2839.4 Q289.8,2839.4 290.4,2835.9 C302.4,2822.2 317.1,2803.6 317.1,2778.5 Z" fill="url(#standh)"/>
<path d="M97.9,2716.3 L650.8,2716.3 L650.8,2758.8 Q650.8,2767.8 641.8,2767.8 L106.9,2767.8 Q97.9,2767.8 97.9,2758.8 Z" fill="url(#chin3)"/>
<path d="M97.9,2717.3 L97.9,2407.8 Q97.9,2395.8 109.9,2395.8 L638.8,2395.8 Q650.8,2395.8 650.8,2407.8 L650.8,2717.3 Z" fill="#0b0b0d"/>
<rect x="103.60000000000001" y="2404.5" width="541.5" height="306.90000000000003" fill="#fff" rx="1.5"/>
<clipPath id="m3c"><rect x="103.6" y="2404.5" width="540.6" height="307"/></clipPath>
<g clip-path="url(#m3c)">
<rect x="104" y="2402" width="541" height="311" fill="#fff"/>
<rect x="185" y="2425.5" width="357.5" height="271" fill="url(#chk)"/>
<rect x="181" y="2421.5" width="362" height="4.5" fill="#f3f3f3"/>
<rect x="181" y="2421.5" width="4.5" height="275" fill="#f3f3f3"/>
<rect x="192" y="2422.5" width="0.5" height="3" fill="#aaa"/>
<rect x="227" y="2422.5" width="0.5" height="3" fill="#aaa"/>
<rect x="262" y="2422.5" width="0.5" height="3" fill="#aaa"/>
<rect x="297" y="2422.5" width="0.5" height="3" fill="#aaa"/>
<rect x="332" y="2422.5" width="0.5" height="3" fill="#aaa"/>
<rect x="367" y="2422.5" width="0.5" height="3" fill="#aaa"/>
<rect x="402" y="2422.5" width="0.5" height="3" fill="#aaa"/>
<rect x="437" y="2422.5" width="0.5" height="3" fill="#aaa"/>
<rect x="472" y="2422.5" width="0.5" height="3" fill="#aaa"/>
<rect x="507" y="2422.5" width="0.5" height="3" fill="#aaa"/>
<rect x="182" y="2432" width="3" height="0.5" fill="#aaa"/>
<rect x="182" y="2468" width="3" height="0.5" fill="#aaa"/>
<rect x="182" y="2504" width="3" height="0.5" fill="#aaa"/>
<rect x="182" y="2540" width="3" height="0.5" fill="#aaa"/>
<rect x="182" y="2576" width="3" height="0.5" fill="#aaa"/>
<rect x="182" y="2612" width="3" height="0.5" fill="#aaa"/>
<rect x="182" y="2648" width="3" height="0.5" fill="#aaa"/>
<rect x="182" y="2684" width="3" height="0.5" fill="#aaa"/>
<g transform="translate(192.3,2445.8) scale(0.82873,0.93922) translate(-240.6,-385.8)">
<rect x="240.6" y="385.8" width="412.79999999999995" height="246.8" fill="#fff"/>
<rect x="240.6" y="548.4" width="412.79999999999995" height="84.20000000000005" fill="#f60a0a"/>
<circle cx="444.8" cy="563.5" r="58.5" fill="#f60a0a"/>
<rect x="444.6" y="385.8" width="2.2" height="125" fill="#111"/>
<text x="254.5" y="420.3" font-size="19" fill="#fdd92b" font-weight="700" textLength="180" lengthAdjust="spacingAndGlyphs" stroke="#fdd92b" stroke-width="0.9" stroke-linejoin="round">windproof jacket</text>
<text x="460" y="420.7" font-size="19" fill="#fdd92b" font-weight="700" textLength="125.5" lengthAdjust="spacingAndGlyphs" stroke="#fdd92b" stroke-width="0.9" stroke-linejoin="round">Slim fit dress</text>
<text x="354.5" y="486.3" font-size="58.5" fill="#fdd92b" font-weight="700" textLength="77" lengthAdjust="spacingAndGlyphs" stroke="#fdd92b" stroke-width="2.6" stroke-linejoin="round">219</text>
<text x="340.3" y="485" font-size="30" fill="#fdd92b" font-weight="700" textLength="12" lengthAdjust="spacingAndGlyphs" stroke="#fdd92b" stroke-width="1.2" stroke-linejoin="round">$</text>
<text x="474.2" y="482.4" font-size="62.5" fill="#fdd92b" font-weight="700" textLength="78.5" lengthAdjust="spacingAndGlyphs" stroke="#fdd92b" stroke-width="2.6" stroke-linejoin="round">169</text>
<text x="458.5" y="481.8" font-size="35" fill="#fdd92b" font-weight="700" textLength="12" lengthAdjust="spacingAndGlyphs" stroke="#fdd92b" stroke-width="1.2" stroke-linejoin="round">$</text>
<g transform="translate(254.8,446) scale(0.7660,0.7767)" fill="#fff" stroke="#222" stroke-width="1.50" stroke-linejoin="round" stroke-linecap="round">
<path d="M11.7,20.4 C8,28 5.5,38 4.5,44.4 C2.5,55 1.2,66 0.9,74.7 C0.3,84 0,92 0,99.6 C0.2,106 0.5,111 0.9,115.6 C5,117.5 9,118.2 12.6,118.2 C12.8,110 13,100 13.5,92.4 C15,82 17,72 18.9,64 Z"/>
<path d="M82.9,20.4 C86.5,28 89.5,38 91,44.4 C93.5,55 95.5,66 96.4,74.7 C97.8,84 98.7,93 99.1,101.3 L99.1,113.8 C94,116 88,117.6 82.9,118.2 C82,110 80,100 78.4,92.4 C77.5,82 76,72 74.8,64 Z"/>
<path d="M36,0.9 L11.7,20.4 C15,34 18,50 18.9,64 C17.5,80 14,96 10.8,110 C22,115 36,118 47.7,118.2 L49.5,117.3 C62,117 74,114.5 83.8,110.2 C80,96 76.5,80 74.8,64 C76,50 79,34 82.9,20.4 L59.5,0.9 C52,0 44,0 36,0.9 Z"/>
<path d="M38.5,9 C44,11.5 52,11.5 57.5,9 L54,34 L47.7,52 L42,34 Z" fill="#cfcfcf" stroke="none"/>
<path d="M41.4,10.7 C45,12.2 51,12.2 55,10.7" fill="none" stroke-width="2.2"/>
<path d="M36.9,2 L37.6,9 M58.6,2 L57.9,9" fill="none"/>
<path d="M36,0.9 L25.2,19.6 L32.4,26.7 L22.5,32.9 C30,44 40,54 49.5,62.2 C46,46 41,26 37.4,8 Z"/>
<path d="M59.5,0.9 L71.2,19.6 L64.9,27.6 L73.9,32 C67,44 58,54 49.5,62.2 C52,46 55.5,26 58.2,8 Z"/>
<path d="M49.5,62.2 C50,80 50,100 48.6,117.8" fill="none"/>
<path d="M66.7,42.7 L74.8,40.9 L75.3,43.4 L67.2,45.3 Z"/>
<path d="M18.9,66.7 C30,70.5 40,71.5 47,71 C56,70.5 66,69.5 75.7,66.7 L76.3,77.2 C66,80.5 56,81.5 47,81.8 C38,82 28,81 18.3,77.4 Z"/>
<path d="M44.5,69.5 L50,69 L58.5,92 L53.5,95.5 Z"/>
<path d="M43.5,70.2 L49,69.6 L50.5,77 L44.6,77.8 Z"/>
<path d="M24,60 L24.8,67.5 M29,61 L29.6,68.8 M34,62 L34.4,69.8 M70,60 L69.4,67.5 M65,61 L64.6,69 M60,62 L59.8,70 M25,79.5 L23.5,88 M30,80.8 L29.2,88 M35,81.5 L34.6,88 M69.5,79.2 L71,87 M64.5,80.4 L65.2,87 M59.5,81.2 L60,87" fill="none" stroke-width="0.8"/>
<path d="M23.4,87.1 L36.9,89.3 L36.6,91.8 L23.2,89.6 Z" fill="#888"/>
<path d="M60.4,88.6 L73,86.6 L73.3,89 L60.7,91 Z" fill="#888"/>
<circle cx="46.8" cy="96" r="1.2" fill="#333"/>
<path d="M8,50 C7,62 6,76 6.5,90 M92,50 C93.5,62 94.5,76 94,92 M20,96 C21,104 24,110 28,114 M78,96 C76,104 73,109 70,113 M60,96 C59,104 57,110 55,116" fill="none" stroke-width="0.7"/>
</g>
<g transform="translate(580.3,421.5) scale(0.8771,0.9085)" fill="#fff" stroke="#222" stroke-width="1.25" stroke-linejoin="round" stroke-linecap="round">
<path stroke="none" d="M18.4,5.1 C12,6 9,8 8.8,9.3 C5,14 3,20 2.6,22.8 C1,28 0,34 0,38 C3,42 6,44 8.8,43.9 L14.9,43 L17.5,56.6 L17.5,61.7 C12,68 8,76 6.1,82 C3.5,92 2,102 1.8,109 L3.5,127.5 C18,131 32,130 43.8,129 C52,128 60,126 66.5,123.3 C65,110 62,98 59.5,88.7 C57,80 53,72 50,66.7 L44.7,60.8 L45.5,56.6 L51.7,38 L56,41.4 C62,41 67,39 70,36.3 C70,30 70,25 69.2,21.1 C68,16 66,12 64.8,9.3 C58,5 50,2 42.9,0.5 L39.4,26.2 Z"/>
<path fill="none" d="M18.4,5.1 C12,6 9,8 8.8,9.3 C5,14 3,20 2.6,22.8 C1,28 0,34 0,38 C3,42 6,44 8.8,43.9 L14.9,43 M11.4,16 C10,21 9,25 8.8,29.6 C10,35 12,40 14.9,43 C15.5,48 16.5,52 17.5,56.6"/>
<path fill="none" d="M42.9,0.5 C50,2 58,5 64.8,9.3 C66,12 68,16 69.2,21.1 C70,25 70,30 70,36.3 C67,39 62,41 56,41.4 L51.7,38 M52.5,16 C52,22 51,28 50,34.6 L51.7,38 C50,44 47.5,51 45.5,56.6"/>
<path fill="none" d="M49,5.1 C46,12 42,20 39.4,26.2 C39,36 38.6,46 38.5,55"/>
<path fill="none" d="M16.6,56.6 C20,55 24,57.5 28,56 C32,55 36,57.5 40,56 L45.5,56.6 L44.7,60.8 C36,62.5 26,62.5 17.5,61.7 Z"/>
<path fill="none" d="M17.5,61.7 C12,68 8,76 6.1,82 C3.5,92 2,102 1.8,109 L3.5,127.5 C18,131 32,130 43.8,129 C52,128 60,126 66.5,123.3 C65,110 62,98 59.5,88.7 C57,80 53,72 50,66.7 L44.7,60.8"/>
<path fill="none" d="M40.3,61.7 C41,84 42.5,106 43.8,129 M22.8,76.9 C30,80 40,81 47.3,80.2 M23.6,88.7 C30,94 38,97.5 45.5,98.8 M26.3,92 C31,96 37,99 42,100 M31.5,117.4 C35,120 40,122 43.8,122.5"/>
</g>
<path d="M368.05,500.00h1.88v1.88h-1.88z M356.77,501.88h1.88v1.88h-1.88z M362.41,501.88h1.88v1.88h-1.88z M364.29,501.88h1.88v1.88h-1.88z M368.05,501.88h1.88v1.88h-1.88z M356.77,503.76h3.76v1.88h-3.76z M362.41,503.76h1.88v1.88h-1.88z M364.29,503.76h1.88v1.88h-1.88z M366.17,503.76h3.76v1.88h-3.76z M358.65,505.64h3.76v1.88h-3.76z M364.29,505.64h1.88v1.88h-1.88z M356.77,507.52h1.88v1.88h-1.88z M364.29,507.52h5.64v1.88h-5.64z M356.77,509.40h5.64v1.88h-5.64z M362.41,509.40h1.88v1.88h-1.88z M364.29,509.40h3.76v1.88h-3.76z M368.05,509.40h1.88v1.88h-1.88z M356.77,511.29h1.88v1.88h-1.88z M360.53,511.29h1.88v1.88h-1.88z M362.41,511.29h1.88v1.88h-1.88z M366.17,511.29h1.88v1.88h-1.88z M368.05,511.29h1.88v1.88h-1.88z M345.48,513.17h5.64v1.88h-5.64z M351.12,513.17h1.88v1.88h-1.88z M356.77,513.17h3.76v1.88h-3.76z M362.41,513.17h1.88v1.88h-1.88z M368.05,513.17h1.88v1.88h-1.88z M369.93,513.17h3.76v1.88h-3.76z M375.58,513.17h1.88v1.88h-1.88z M379.34,513.17h3.76v1.88h-3.76z M343.60,515.05h5.64v1.88h-5.64z M351.12,515.05h3.76v1.88h-3.76z M356.77,515.05h3.76v1.88h-3.76z M362.41,515.05h1.88v1.88h-1.88z M364.29,515.05h1.88v1.88h-1.88z M366.17,515.05h1.88v1.88h-1.88z M369.93,515.05h1.88v1.88h-1.88z M377.46,515.05h1.88v1.88h-1.88z M379.34,515.05h1.88v1.88h-1.88z M381.22,515.05h1.88v1.88h-1.88z M343.60,516.93h1.88v1.88h-1.88z M349.24,516.93h1.88v1.88h-1.88z M353.00,516.93h3.76v1.88h-3.76z M356.77,516.93h3.76v1.88h-3.76z M364.29,516.93h7.52v1.88h-7.52z M373.70,516.93h1.88v1.88h-1.88z M343.60,518.81h1.88v1.88h-1.88z M345.48,518.81h1.88v1.88h-1.88z M351.12,518.81h1.88v1.88h-1.88z M356.77,518.81h1.88v1.88h-1.88z M358.65,518.81h1.88v1.88h-1.88z M360.53,518.81h1.88v1.88h-1.88z M366.17,518.81h1.88v1.88h-1.88z M371.81,518.81h1.88v1.88h-1.88z M345.48,520.69h1.88v1.88h-1.88z M349.24,520.69h1.88v1.88h-1.88z M354.89,520.69h1.88v1.88h-1.88z M360.53,520.69h1.88v1.88h-1.88z M368.05,520.69h3.76v1.88h-3.76z M373.70,520.69h1.88v1.88h-1.88z M377.46,520.69h1.88v1.88h-1.88z M379.34,520.69h3.76v1.88h-3.76z M343.60,522.57h9.40v1.88h-9.40z M353.00,522.57h1.88v1.88h-1.88z M356.77,522.57h1.88v1.88h-1.88z M358.65,522.57h1.88v1.88h-1.88z M360.53,522.57h1.88v1.88h-1.88z M362.41,522.57h1.88v1.88h-1.88z M364.29,522.57h3.76v1.88h-3.76z M368.05,522.57h1.88v1.88h-1.88z M369.93,522.57h1.88v1.88h-1.88z M375.58,522.57h1.88v1.88h-1.88z M379.34,522.57h3.76v1.88h-3.76z M353.00,524.45h1.88v1.88h-1.88z M354.89,524.45h3.76v1.88h-3.76z M360.53,524.45h1.88v1.88h-1.88z M364.29,524.45h1.88v1.88h-1.88z M366.17,524.45h3.76v1.88h-3.76z M369.93,524.45h1.88v1.88h-1.88z M375.58,524.45h1.88v1.88h-1.88z M377.46,524.45h1.88v1.88h-1.88z M379.34,524.45h1.88v1.88h-1.88z M381.22,524.45h1.88v1.88h-1.88z M356.77,526.33h1.88v1.88h-1.88z M358.65,526.33h1.88v1.88h-1.88z M360.53,526.33h3.76v1.88h-3.76z M366.17,526.33h1.88v1.88h-1.88z M368.05,526.33h1.88v1.88h-1.88z M371.81,526.33h5.64v1.88h-5.64z M377.46,526.33h1.88v1.88h-1.88z M379.34,526.33h1.88v1.88h-1.88z M358.65,528.21h1.88v1.88h-1.88z M360.53,528.21h1.88v1.88h-1.88z M362.41,528.21h3.76v1.88h-3.76z M366.17,528.21h3.76v1.88h-3.76z M371.81,528.21h3.76v1.88h-3.76z M381.22,528.21h1.88v1.88h-1.88z M358.65,530.10h1.88v1.88h-1.88z M364.29,530.10h1.88v1.88h-1.88z M366.17,530.10h3.76v1.88h-3.76z M369.93,530.10h3.76v1.88h-3.76z M373.70,530.10h1.88v1.88h-1.88z M377.46,530.10h3.76v1.88h-3.76z M356.77,531.98h1.88v1.88h-1.88z M360.53,531.98h5.64v1.88h-5.64z M368.05,531.98h3.76v1.88h-3.76z M375.58,531.98h1.88v1.88h-1.88z M356.77,533.86h1.88v1.88h-1.88z M358.65,533.86h1.88v1.88h-1.88z M364.29,533.86h3.76v1.88h-3.76z M368.05,533.86h1.88v1.88h-1.88z M369.93,533.86h3.76v1.88h-3.76z M373.70,533.86h9.40v1.88h-9.40z M362.41,535.74h1.88v1.88h-1.88z M364.29,535.74h1.88v1.88h-1.88z M366.17,535.74h1.88v1.88h-1.88z M368.05,535.74h3.76v1.88h-3.76z M371.81,535.74h1.88v1.88h-1.88z M381.22,535.74h1.88v1.88h-1.88z M358.65,537.62h1.88v1.88h-1.88z M362.41,537.62h5.64v1.88h-5.64z M368.05,537.62h1.88v1.88h-1.88z M371.81,537.62h1.88v1.88h-1.88z M373.70,537.62h3.76v1.88h-3.76z M377.46,537.62h1.88v1.88h-1.88z M379.34,537.62h3.76v1.88h-3.76z M343.60,500.00h13.17v13.17h-13.17z M345.48,501.88v9.40h9.40v-9.40z M347.36,503.76h5.64v5.64h-5.64z M369.93,500.00h13.17v13.17h-13.17z M371.81,501.88v9.40h9.40v-9.40z M373.70,503.76h5.64v5.64h-5.64z M343.60,526.33h13.17v13.17h-13.17z M345.48,528.21v9.40h9.40v-9.40z M347.36,530.10h5.64v5.64h-5.64z" fill="#111" fill-rule="evenodd"/>
<path d="M531.17,500.50h5.64v1.88h-5.64z M536.81,500.50h1.88v1.88h-1.88z M540.57,500.50h1.88v1.88h-1.88z M531.17,502.38h3.76v1.88h-3.76z M534.93,502.38h1.88v1.88h-1.88z M536.81,502.38h5.64v1.88h-5.64z M534.93,504.26h1.88v1.88h-1.88z M536.81,504.26h3.76v1.88h-3.76z M542.45,504.26h1.88v1.88h-1.88z M531.17,506.14h7.52v1.88h-7.52z M538.69,506.14h1.88v1.88h-1.88z M542.45,506.14h1.88v1.88h-1.88z M531.17,508.02h1.88v1.88h-1.88z M533.05,508.02h1.88v1.88h-1.88z M536.81,508.02h1.88v1.88h-1.88z M538.69,508.02h1.88v1.88h-1.88z M542.45,508.02h1.88v1.88h-1.88z M531.17,509.90h3.76v1.88h-3.76z M534.93,509.90h3.76v1.88h-3.76z M540.57,509.90h3.76v1.88h-3.76z M533.05,511.79h1.88v1.88h-1.88z M534.93,511.79h1.88v1.88h-1.88z M538.69,511.79h1.88v1.88h-1.88z M542.45,511.79h1.88v1.88h-1.88z M518.00,513.67h1.88v1.88h-1.88z M521.76,513.67h1.88v1.88h-1.88z M525.52,513.67h1.88v1.88h-1.88z M527.40,513.67h3.76v1.88h-3.76z M534.93,513.67h3.76v1.88h-3.76z M540.57,513.67h1.88v1.88h-1.88z M546.21,513.67h1.88v1.88h-1.88z M548.10,513.67h1.88v1.88h-1.88z M549.98,513.67h1.88v1.88h-1.88z M551.86,513.67h3.76v1.88h-3.76z M555.62,513.67h1.88v1.88h-1.88z M519.88,515.55h1.88v1.88h-1.88z M523.64,515.55h1.88v1.88h-1.88z M525.52,515.55h1.88v1.88h-1.88z M527.40,515.55h3.76v1.88h-3.76z M531.17,515.55h3.76v1.88h-3.76z M534.93,515.55h1.88v1.88h-1.88z M536.81,515.55h1.88v1.88h-1.88z M538.69,515.55h3.76v1.88h-3.76z M542.45,515.55h1.88v1.88h-1.88z M548.10,515.55h7.52v1.88h-7.52z M518.00,517.43h3.76v1.88h-3.76z M521.76,517.43h3.76v1.88h-3.76z M527.40,517.43h1.88v1.88h-1.88z M533.05,517.43h1.88v1.88h-1.88z M534.93,517.43h1.88v1.88h-1.88z M540.57,517.43h5.64v1.88h-5.64z M546.21,517.43h1.88v1.88h-1.88z M548.10,517.43h1.88v1.88h-1.88z M549.98,517.43h5.64v1.88h-5.64z M518.00,519.31h3.76v1.88h-3.76z M527.40,519.31h1.88v1.88h-1.88z M538.69,519.31h1.88v1.88h-1.88z M542.45,519.31h1.88v1.88h-1.88z M546.21,519.31h1.88v1.88h-1.88z M548.10,519.31h1.88v1.88h-1.88z M551.86,519.31h1.88v1.88h-1.88z M553.74,519.31h1.88v1.88h-1.88z M555.62,519.31h1.88v1.88h-1.88z M525.52,521.19h1.88v1.88h-1.88z M531.17,521.19h5.64v1.88h-5.64z M536.81,521.19h5.64v1.88h-5.64z M544.33,521.19h1.88v1.88h-1.88z M546.21,521.19h1.88v1.88h-1.88z M548.10,521.19h1.88v1.88h-1.88z M518.00,523.07h5.64v1.88h-5.64z M523.64,523.07h7.52v1.88h-7.52z M533.05,523.07h1.88v1.88h-1.88z M534.93,523.07h1.88v1.88h-1.88z M536.81,523.07h1.88v1.88h-1.88z M538.69,523.07h3.76v1.88h-3.76z M542.45,523.07h1.88v1.88h-1.88z M546.21,523.07h3.76v1.88h-3.76z M549.98,523.07h3.76v1.88h-3.76z M555.62,523.07h1.88v1.88h-1.88z M518.00,524.95h5.64v1.88h-5.64z M536.81,524.95h5.64v1.88h-5.64z M542.45,524.95h3.76v1.88h-3.76z M546.21,524.95h5.64v1.88h-5.64z M555.62,524.95h1.88v1.88h-1.88z M531.17,526.83h1.88v1.88h-1.88z M533.05,526.83h3.76v1.88h-3.76z M536.81,526.83h1.88v1.88h-1.88z M540.57,526.83h1.88v1.88h-1.88z M542.45,526.83h1.88v1.88h-1.88z M551.86,526.83h1.88v1.88h-1.88z M553.74,526.83h3.76v1.88h-3.76z M533.05,528.71h1.88v1.88h-1.88z M534.93,528.71h1.88v1.88h-1.88z M538.69,528.71h1.88v1.88h-1.88z M540.57,528.71h1.88v1.88h-1.88z M542.45,528.71h3.76v1.88h-3.76z M546.21,528.71h7.52v1.88h-7.52z M531.17,530.60h1.88v1.88h-1.88z M534.93,530.60h1.88v1.88h-1.88z M536.81,530.60h9.40v1.88h-9.40z M549.98,530.60h1.88v1.88h-1.88z M551.86,530.60h1.88v1.88h-1.88z M534.93,532.48h3.76v1.88h-3.76z M540.57,532.48h3.76v1.88h-3.76z M544.33,532.48h1.88v1.88h-1.88z M549.98,532.48h3.76v1.88h-3.76z M555.62,532.48h1.88v1.88h-1.88z M531.17,534.36h3.76v1.88h-3.76z M536.81,534.36h3.76v1.88h-3.76z M540.57,534.36h1.88v1.88h-1.88z M548.10,534.36h3.76v1.88h-3.76z M551.86,534.36h1.88v1.88h-1.88z M536.81,536.24h3.76v1.88h-3.76z M544.33,536.24h1.88v1.88h-1.88z M553.74,536.24h3.76v1.88h-3.76z M534.93,538.12h1.88v1.88h-1.88z M536.81,538.12h7.52v1.88h-7.52z M546.21,538.12h1.88v1.88h-1.88z M548.10,538.12h5.64v1.88h-5.64z M553.74,538.12h1.88v1.88h-1.88z M518.00,500.50h13.17v13.17h-13.17z M519.88,502.38v9.40h9.40v-9.40z M521.76,504.26h5.64v5.64h-5.64z M544.33,500.50h13.17v13.17h-13.17z M546.21,502.38v9.40h9.40v-9.40z M548.10,504.26h5.64v5.64h-5.64z M518.00,526.83h13.17v13.17h-13.17z M519.88,528.71v9.40h9.40v-9.40z M521.76,530.60h5.64v5.64h-5.64z" fill="#111" fill-rule="evenodd"/>
<rect x="395" y="532" width="97" height="25.5" fill="#fffdf2" rx="7"/>
<text x="443.5" y="552.5" font-size="22.5" fill="#fdd92b" font-weight="700" text-anchor="middle" textLength="74" lengthAdjust="spacingAndGlyphs" stroke="#fdd92b" stroke-width="0.5" stroke-linejoin="round">assembled</text>
<rect x="254" y="561" width="57.5" height="68.6" fill="none" rx="7" stroke="#fbc12a" stroke-width="1.5"/>
<rect x="331" y="561" width="52.4" height="68.6" fill="none" rx="7" stroke="#fbc12a" stroke-width="1.5"/>
<g transform="translate(257,565.8) scale(0.4780,0.4700)" fill="none" stroke="#fff" stroke-width="2.62" stroke-linejoin="round" stroke-linecap="round">
<path d="M11.7,20.4 C8,28 5.5,38 4.5,44.4 C2.5,55 1.2,66 0.9,74.7 C0.3,84 0,92 0,99.6 C0.2,106 0.5,111 0.9,115.6 C5,117.5 9,118.2 12.6,118.2 C12.8,110 13,100 13.5,92.4 C15,82 17,72 18.9,64 Z"/>
<path d="M82.9,20.4 C86.5,28 89.5,38 91,44.4 C93.5,55 95.5,66 96.4,74.7 C97.8,84 98.7,93 99.1,101.3 L99.1,113.8 C94,116 88,117.6 82.9,118.2 C82,110 80,100 78.4,92.4 C77.5,82 76,72 74.8,64 Z"/>
<path d="M36,0.9 L11.7,20.4 C15,34 18,50 18.9,64 C17.5,80 14,96 10.8,110 C22,115 36,118 47.7,118.2 L49.5,117.3 C62,117 74,114.5 83.8,110.2 C80,96 76.5,80 74.8,64 C76,50 79,34 82.9,20.4 L59.5,0.9 C52,0 44,0 36,0.9 Z"/>
<path d="M41.4,10.7 C45,12.2 51,12.2 55,10.7" fill="none" stroke-width="2.2"/>
<path d="M36.9,2 L37.6,9 M58.6,2 L57.9,9" fill="none"/>
<path d="M36,0.9 L25.2,19.6 L32.4,26.7 L22.5,32.9 C30,44 40,54 49.5,62.2 C46,46 41,26 37.4,8 Z"/>
<path d="M59.5,0.9 L71.2,19.6 L64.9,27.6 L73.9,32 C67,44 58,54 49.5,62.2 C52,46 55.5,26 58.2,8 Z"/>
<path d="M49.5,62.2 C50,80 50,100 48.6,117.8" fill="none"/>
<path d="M66.7,42.7 L74.8,40.9 L75.3,43.4 L67.2,45.3 Z"/>
<path d="M18.9,66.7 C30,70.5 40,71.5 47,71 C56,70.5 66,69.5 75.7,66.7 L76.3,77.2 C66,80.5 56,81.5 47,81.8 C38,82 28,81 18.3,77.4 Z"/>
<path d="M44.5,69.5 L50,69 L58.5,92 L53.5,95.5 Z"/>
<path d="M43.5,70.2 L49,69.6 L50.5,77 L44.6,77.8 Z"/>
<path d="M24,60 L24.8,67.5 M29,61 L29.6,68.8 M34,62 L34.4,69.8 M70,60 L69.4,67.5 M65,61 L64.6,69 M60,62 L59.8,70 M25,79.5 L23.5,88 M30,80.8 L29.2,88 M35,81.5 L34.6,88 M69.5,79.2 L71,87 M64.5,80.4 L65.2,87 M59.5,81.2 L60,87" fill="none" stroke-width="0.8"/>
<path d="M23.4,87.1 L36.9,89.3 L36.6,91.8 L23.2,89.6 Z" fill="#888"/>
<path d="M60.4,88.6 L73,86.6 L73.3,89 L60.7,91 Z" fill="#888"/>
<circle cx="46.8" cy="96" r="1.2" fill="#333"/>
<path d="M8,50 C7,62 6,76 6.5,90 M92,50 C93.5,62 94.5,76 94,92 M20,96 C21,104 24,110 28,114 M78,96 C76,104 73,109 70,113 M60,96 C59,104 57,110 55,116" fill="none" stroke-width="0.7"/>
</g>
<g transform="translate(341.7,564.5) scale(0.4371,0.4531)" fill="none" stroke="#fff" stroke-width="2.86" stroke-linejoin="round" stroke-linecap="round">
<path stroke="none" d="M18.4,5.1 C12,6 9,8 8.8,9.3 C5,14 3,20 2.6,22.8 C1,28 0,34 0,38 C3,42 6,44 8.8,43.9 L14.9,43 L17.5,56.6 L17.5,61.7 C12,68 8,76 6.1,82 C3.5,92 2,102 1.8,109 L3.5,127.5 C18,131 32,130 43.8,129 C52,128 60,126 66.5,123.3 C65,110 62,98 59.5,88.7 C57,80 53,72 50,66.7 L44.7,60.8 L45.5,56.6 L51.7,38 L56,41.4 C62,41 67,39 70,36.3 C70,30 70,25 69.2,21.1 C68,16 66,12 64.8,9.3 C58,5 50,2 42.9,0.5 L39.4,26.2 Z"/>
<path fill="none" d="M18.4,5.1 C12,6 9,8 8.8,9.3 C5,14 3,20 2.6,22.8 C1,28 0,34 0,38 C3,42 6,44 8.8,43.9 L14.9,43 M11.4,16 C10,21 9,25 8.8,29.6 C10,35 12,40 14.9,43 C15.5,48 16.5,52 17.5,56.6"/>
<path fill="none" d="M42.9,0.5 C50,2 58,5 64.8,9.3 C66,12 68,16 69.2,21.1 C70,25 70,30 70,36.3 C67,39 62,41 56,41.4 L51.7,38 M52.5,16 C52,22 51,28 50,34.6 L51.7,38 C50,44 47.5,51 45.5,56.6"/>
<path fill="none" d="M49,5.1 C46,12 42,20 39.4,26.2 C39,36 38.6,46 38.5,55"/>
<path fill="none" d="M16.6,56.6 C20,55 24,57.5 28,56 C32,55 36,57.5 40,56 L45.5,56.6 L44.7,60.8 C36,62.5 26,62.5 17.5,61.7 Z"/>
<path fill="none" d="M17.5,61.7 C12,68 8,76 6.1,82 C3.5,92 2,102 1.8,109 L3.5,127.5 C18,131 32,130 43.8,129 C52,128 60,126 66.5,123.3 C65,110 62,98 59.5,88.7 C57,80 53,72 50,66.7 L44.7,60.8"/>
<path fill="none" d="M40.3,61.7 C41,84 42.5,106 43.8,129 M22.8,76.9 C30,80 40,81 47.3,80.2 M23.6,88.7 C30,94 38,97.5 45.5,98.8 M26.3,92 C31,96 37,99 42,100 M31.5,117.4 C35,120 40,122 43.8,122.5"/>
</g>
<rect x="315.1" y="594.5" width="11.4" height="3" fill="#fdd92b"/>
<rect x="319.3" y="590.3" width="3" height="11.4" fill="#fdd92b"/>
<g transform="translate(402,577) scale(0.9792,1.0227)" fill="#111">
<rect x="0" y="9" width="5.5" height="13"/>
<path d="M7,9 L11,2 C12,0 15,1 14.5,4 L13.5,8 L21,8 C23.5,8 24,10.5 22.5,12 C23.5,13.5 23,15 21.8,15.8 C22.5,17.3 21.8,18.6 20.6,19.2 C20.8,21 19.5,22 18,22 L7,22 Z"/>
<path d="M15.5,0.5l1.2,2.2M18.5,1.5l-0.6,2.2M20.5,4l-2,1.2" stroke="#f6d21e" stroke-width="0.9" fill="none"/>
</g>
<text x="429.5" y="596.3" font-size="19.5" fill="#111" font-weight="700" textLength="89" lengthAdjust="spacingAndGlyphs" stroke="#111" stroke-width="0.5" stroke-linejoin="round">smart clothes</text>
<path d="M402.00,607.7h0.8v20.3h-0.8z M404.40,607.7h0.8v20.3h-0.8z M406.20,607.7h2.2v20.3h-2.2z M410.00,607.7h0.8v20.3h-0.8z M412.40,607.7h0.8v20.3h-0.8z M414.20,607.7h1.4v20.3h-1.4z M417.20,607.7h0.8v20.3h-0.8z M418.80,607.7h2.2v20.3h-2.2z M422.60,607.7h2.2v20.3h-2.2z M425.80,607.7h0.8v20.3h-0.8z M427.40,607.7h0.8v20.3h-0.8z M429.80,607.7h2.2v20.3h-2.2z M433.60,607.7h0.8v20.3h-0.8z M436.00,607.7h0.8v20.3h-0.8z M437.60,607.7h0.8v20.3h-0.8z M439.40,607.7h0.8v20.3h-0.8z M441.20,607.7h2.2v20.3h-2.2z M445.00,607.7h2.2v20.3h-2.2z M448.80,607.7h2.2v20.3h-2.2z M452.00,607.7h2.2v20.3h-2.2z M455.00,607.7h1.4v20.3h-1.4z M457.20,607.7h0.8v20.3h-0.8z M458.80,607.7h2.2v20.3h-2.2z M461.80,607.7h1.4v20.3h-1.4z M464.80,607.7h2.2v20.3h-2.2z M468.60,607.7h1.4v20.3h-1.4z M471.00,607.7h2.2v20.3h-2.2z M474.80,607.7h1.4v20.3h-1.4z M477.80,607.7h2.2v20.3h-2.2z M481.60,607.7h0.8v20.3h-0.8z M483.40,607.7h0.8v20.3h-0.8z M485.20,607.7h0.8v20.3h-0.8z M487.60,607.7h1.4v20.3h-1.4z M490.60,607.7h0.8v20.3h-0.8z M493.00,607.7h0.8v20.3h-0.8z M495.40,607.7h1.4v20.3h-1.4z M497.80,607.7h0.8v20.3h-0.8z M499.40,607.7h2.2v20.3h-2.2z M503.20,607.7h2.2v20.3h-2.2z M506.20,607.7h1.4v20.3h-1.4z M508.40,607.7h2.2v20.3h-2.2z M511.40,607.7h0.8v20.3h-0.8z" fill="#111"/>
<text x="536.8" y="619.3" font-size="74.5" fill="#fdd92b" font-weight="700" textLength="104.5" lengthAdjust="spacingAndGlyphs" stroke="#fdd92b" stroke-width="3" stroke-linejoin="round">350</text>
</g>
<path d="M112.5,2417 l2,-1.6 M121,2417 l2,-1.6" fill="none" stroke="#999" stroke-width="0.6"/>
<rect x="104" y="2422" width="15.5" height="291" fill="#fbfbfc"/>
<rect x="119.5" y="2422" width="0.5" height="291" fill="#e6e6ea"/>
<rect x="120.4" y="2424.5" width="1" height="19" fill="#5b8fe0"/>
<rect x="109.6" y="2429" width="5" height="4" fill="#2d6fd6" rx="0.8"/>
<text x="112" y="2439.4" font-size="2.4" fill="#2d6fd6" text-anchor="middle">Elements</text>
<text x="111.8" y="2459.6" font-size="2.3" fill="#555" text-anchor="middle">Layers</text>
<text x="111.8" y="2479.6" font-size="2.3" fill="#555" text-anchor="middle">toolbar</text>
<text x="111.8" y="2498.6" font-size="2.3" fill="#555" text-anchor="middle">Helper</text>
<rect x="109.3" y="2448.6" width="5" height="0.7" fill="#444"/>
<rect x="109.3" y="2450.4" width="5" height="0.7" fill="#444"/>
<rect x="109.3" y="2452.2" width="5" height="0.7" fill="#444"/>
<rect x="109.3" y="2468.4" width="1.2" height="1.2" fill="#444"/>
<rect x="111.3" y="2468.4" width="3" height="1.2" fill="#444"/>
<rect x="109.3" y="2470.2000000000003" width="1.2" height="1.2" fill="#444"/>
<rect x="111.3" y="2470.2000000000003" width="3" height="1.2" fill="#444"/>
<rect x="109.3" y="2472.0" width="1.2" height="1.2" fill="#444"/>
<rect x="111.3" y="2472.0" width="3" height="1.2" fill="#444"/>
<text x="111.8" y="2492.4" font-size="6" fill="#333" font-weight="700" text-anchor="middle">?</text>
<text x="126.5" y="2433.5" font-size="2.9" fill="#333" textLength="22" lengthAdjust="spacingAndGlyphs">Common Elements</text>
<rect x="124" y="2438" width="54" height="0.4" fill="#e6e6ea"/>
<text x="130.7" y="2451.5" font-size="8" fill="#222" font-weight="700" text-anchor="middle">T</text>
<rect x="141.5" y="2445" width="6.4" height="5.6" fill="none" rx="0.8" stroke="#222" stroke-width="0.7"/>
<text x="144.7" y="2449.5" font-size="4" fill="#222" font-weight="700" text-anchor="middle">T</text>
<path d="M157,2445.6 h-1.7 v4.4 h1.7 M161,2445.6 h1.7 v4.4 h-1.7 M157,2447.8 h4" fill="none" stroke="#222" stroke-width="0.8"/>
<rect x="169.6" y="2445" width="2.3" height="2.3" fill="none" stroke="#222" stroke-width="0.6"/>
<rect x="172.9" y="2445" width="2.3" height="2.3" fill="none" stroke="#222" stroke-width="0.6"/>
<rect x="169.6" y="2448.3" width="2.3" height="2.3" fill="none" stroke="#222" stroke-width="0.6"/>
<rect x="172.9" y="2448.3" width="2.3" height="2.3" fill="#222" stroke="#222" stroke-width="0.6"/>
<circle cx="130.7" cy="2464.6" r="3" fill="none" stroke="#222" stroke-width="0.7"/>
<text x="130.7" y="2466" font-size="3.6" fill="#222" font-weight="700" text-anchor="middle">$</text>
<rect x="142.8" y="2462" width="3.6" height="5.2" fill="none" rx="0.8" stroke="#222" stroke-width="0.7"/>
<text x="159" y="2467.6" font-size="7.2" fill="#222" text-anchor="middle">★</text>
<text x="126.5" y="2483.6" font-size="2.9" fill="#333" textLength="18" lengthAdjust="spacingAndGlyphs">Draw Elements</text>
<rect x="124" y="2488" width="54" height="0.4" fill="#e6e6ea"/>
<rect x="127.8" y="2494.2" width="5.6" height="5.6" fill="none" rx="0.8" stroke="#222" stroke-width="0.8"/>
<circle cx="144.7" cy="2497" r="3.1" fill="none" stroke="#222" stroke-width="0.8"/>
<path d="M155.4,2500 l3.4,-6 l3.4,6z" fill="none" stroke="#222" stroke-width="0.8"/>
<rect x="172.5" y="2494" width="0.8" height="6" fill="#222"/>
<text x="126.5" y="2523" font-size="2.9" fill="#333" textLength="17" lengthAdjust="spacingAndGlyphs">Current Store</text>
<rect x="126" y="2533" width="10.6" height="6.6" fill="#fbd31c"/>
<rect x="127" y="2535.97" width="6.6747180194230555" height="2.64" fill="#d22"/>
<rect x="132.36" y="2533.8" width="3.1799999999999997" height="1.6" fill="#a60"/>
<rect x="141" y="2533" width="10.6" height="6.6" fill="#fbd31c"/>
<rect x="142" y="2535.97" width="4.91911179447201" height="2.64" fill="#d22"/>
<rect x="147.36" y="2533.8" width="3.1799999999999997" height="1.6" fill="#a60"/>
<rect x="156" y="2533" width="10.6" height="6.6" fill="#fbd31c"/>
<rect x="157" y="2535.97" width="4.6022309409567175" height="2.64" fill="#d22"/>
<rect x="162.36" y="2533.8" width="3.1799999999999997" height="1.6" fill="#a60"/>
<rect x="126" y="2547" width="10.6" height="6.6" fill="#fbd31c"/>
<rect x="127" y="2549.97" width="6.761682275355952" height="2.64" fill="#d22"/>
<rect x="132.36" y="2547.8" width="3.1799999999999997" height="1.6" fill="#a60"/>
<rect x="141" y="2547" width="10.6" height="6.6" fill="#fbd31c"/>
<rect x="142" y="2549.97" width="4.136882012222153" height="2.64" fill="#d22"/>
<rect x="147.36" y="2547.8" width="3.1799999999999997" height="1.6" fill="#a60"/>
<rect x="156" y="2547" width="10.6" height="6.6" fill="#fbd31c"/>
<rect x="157" y="2549.97" width="5.4768384358718345" height="2.64" fill="#d22"/>
<rect x="162.36" y="2547.8" width="3.1799999999999997" height="1.6" fill="#a60"/>
<rect x="126" y="2561" width="10.6" height="6.6" fill="#fbd31c"/>
<rect x="127" y="2563.97" width="5.7797894448703655" height="2.64" fill="#d22"/>
<rect x="132.36" y="2561.8" width="3.1799999999999997" height="1.6" fill="#a60"/>
<rect x="141" y="2561" width="10.6" height="6.6" fill="#fbd31c"/>
<rect x="142" y="2563.97" width="5.978045676740088" height="2.64" fill="#d22"/>
<rect x="147.36" y="2561.8" width="3.1799999999999997" height="1.6" fill="#a60"/>
<rect x="156" y="2561" width="10.6" height="6.6" fill="#fbd31c"/>
<rect x="157" y="2563.97" width="4.249699136110804" height="2.64" fill="#d22"/>
<rect x="162.36" y="2561.8" width="3.1799999999999997" height="1.6" fill="#a60"/>
<circle cx="131" cy="2581" r="4.6" fill="#fbd31c"/>
<rect x="127.5" y="2580" width="7" height="2" fill="#d22"/>
<rect x="142" y="2579" width="7" height="4" fill="#d22"/>
<rect x="156" y="2577" width="10.6" height="6.6" fill="#fbd31c"/>
<rect x="157" y="2579.97" width="6.049713669812361" height="2.64" fill="#d22"/>
<rect x="162.36" y="2577.8" width="3.1799999999999997" height="1.6" fill="#a60"/>
<rect x="126" y="2594" width="10.6" height="6.6" fill="#fbd31c"/>
<rect x="127" y="2596.97" width="5.567299371056266" height="2.64" fill="#d22"/>
<rect x="132.36" y="2594.8" width="3.1799999999999997" height="1.6" fill="#a60"/>
<rect x="141" y="2594" width="10.6" height="6.6" fill="#181818"/>
<rect x="142" y="2596.97" width="6.867650877524757" height="2.64" fill="#fbd31c"/>
<rect x="147.5" y="2594.8" width="3.4" height="2.2" fill="#d22"/>
<rect x="156" y="2594" width="10.6" height="6.6" fill="#f2f2f2"/>
<rect x="157" y="2596.97" width="3.8151831229733513" height="2.64" fill="#d22"/>
<rect x="126" y="2609" width="10.6" height="9.1" fill="#111"/>
<rect x="127.2" y="2610.4" width="4" height="4" fill="#fbd31c"/>
<rect x="132" y="2613.4" width="3.6" height="2.6" fill="#d22"/>
<rect x="141" y="2609" width="10.6" height="6.6" fill="#181818"/>
<rect x="142" y="2611.97" width="7.261122696879705" height="2.64" fill="#fbd31c"/>
<rect x="147.5" y="2609.8" width="3.4" height="2.2" fill="#d22"/>
<rect x="156" y="2609" width="10.6" height="6.6" fill="#f2f2f2"/>
<rect x="157" y="2611.97" width="4.350642233937584" height="2.64" fill="#d22"/>
<rect x="126" y="2625" width="12" height="4" fill="#ddd"/>
<rect x="141" y="2625" width="10" height="4" fill="#ddd"/>
<rect x="156.5" y="2624" width="10.5" height="2.2" fill="#333"/>
<text x="156.5" y="2629.3" font-size="2.4" fill="#333" font-weight="700">SHELF</text>
<text x="126.5" y="2638" font-size="2.1" fill="#777">SIMCHIS</text>
<rect x="124" y="2645.5" width="54" height="0.4" fill="#e6e6ea"/>
<text x="126.5" y="2655.8" font-size="2.9" fill="#333" textLength="16" lengthAdjust="spacingAndGlyphs">Headquarters</text>
<rect x="124" y="2661" width="54" height="0.4" fill="#e6e6ea"/>
<rect x="602" y="2413.6" width="17.3" height="9.4" fill="#2d7be5" rx="1.2"/>
<text x="610.6" y="2419.4" font-size="2.8" fill="#fff" font-weight="700" text-anchor="middle">SAVE</text>
<text x="629.6" y="2419.4" font-size="2.9" fill="#555" text-anchor="middle">EN</text>
<path d="M633.6,2417.8 l1.1,1.2 l1.1,-1.2" fill="none" stroke="#777" stroke-width="0.5"/>
<text x="553.5" y="2438.6" font-size="3.1" fill="#222" font-weight="700">Size</text>
<text x="550.5" y="2448.4" font-size="2.8" fill="#555">Width:800</text>
<text x="550.5" y="2455.0" font-size="2.8" fill="#555">Height:480</text>
<text x="550.5" y="2461.6" font-size="2.8" fill="#555">Type:ESL_75MBWRY</text>
<text x="550.5" y="2468.2000000000003" font-size="2.8" fill="#555">Color:4</text>
<text x="550.5" y="2474.8" font-size="2.8" fill="#555">Name:7.5</text>
<text x="553.5" y="2484.2" font-size="3.1" fill="#222" font-weight="700">Color</text>
<rect x="547" y="2491" width="93" height="13" fill="#f5f6f8"/>
<text x="548" y="2499" font-size="2.7" fill="#555">Background Color</text>
<rect x="583.6" y="2495" width="5" height="5" fill="#111" stroke="#bbb" stroke-width="0.4"/>
<rect x="590.9" y="2495" width="5" height="5" fill="#fff" stroke="#bbb" stroke-width="0.4"/>
<rect x="598.2" y="2495" width="5" height="5" fill="#e02020" stroke="#bbb" stroke-width="0.4"/>
<rect x="605.5" y="2495" width="5" height="5" fill="#fbd31c" stroke="#bbb" stroke-width="0.4"/>
<rect x="612.8000000000001" y="2495" width="5" height="5" fill="#f2f2f2" stroke="#bbb" stroke-width="0.4"/>
<text x="552.5" y="2513" font-size="3.1" fill="#222" font-weight="700">BackgroundImage</text>
<text x="548" y="2526.3" font-size="2.7" fill="#555">Path</text>
<rect x="557" y="2520.5" width="81" height="8.6" fill="none" rx="1" stroke="#e6e6ea" stroke-width="0.5"/>
<rect x="547" y="2532" width="93" height="13" fill="#f5f6f8"/>
<text x="553.5" y="2553.8" font-size="3.1" fill="#222" font-weight="700">ID</text>
<circle cx="555" cy="2552.6" r="1.7" fill="#333"/>
<text x="548" y="2568" font-size="2.7" fill="#555">ID</text>
<rect x="554" y="2562" width="80" height="8.4" fill="none" rx="1" stroke="#e6e6ea" stroke-width="0.5"/>
<rect x="634" y="2562" width="6" height="8.4" fill="#f5f6f8"/>
<circle cx="499.5" cy="2692" r="1.7" fill="none" stroke="#777" stroke-width="0.6"/>
<circle cx="511.3" cy="2692" r="1.7" fill="none" stroke="#777" stroke-width="0.6"/>
<circle cx="523.1" cy="2692" r="1.7" fill="none" stroke="#777" stroke-width="0.6"/>
<circle cx="534.9" cy="2692" r="1.7" fill="none" stroke="#777" stroke-width="0.6"/>
</g>
<text x="41.03" y="2886" font-size="23.3" fill="#6f718d" font-weight="700" textLength="638.6" lengthAdjust="spacingAndGlyphs" stroke="#6f718d" stroke-width="0.65" stroke-linejoin="round" word-spacing="-1.86">You can create your own personalised, fun, multi-</text>
<text x="40.61" y="2910.3" font-size="23.3" fill="#6f718d" font-weight="700" textLength="446.37" lengthAdjust="spacingAndGlyphs" stroke="#6f718d" stroke-width="0.65" stroke-linejoin="round" word-spacing="-1.86">style templates on your computer!</text>
</svg>
</body></html>
